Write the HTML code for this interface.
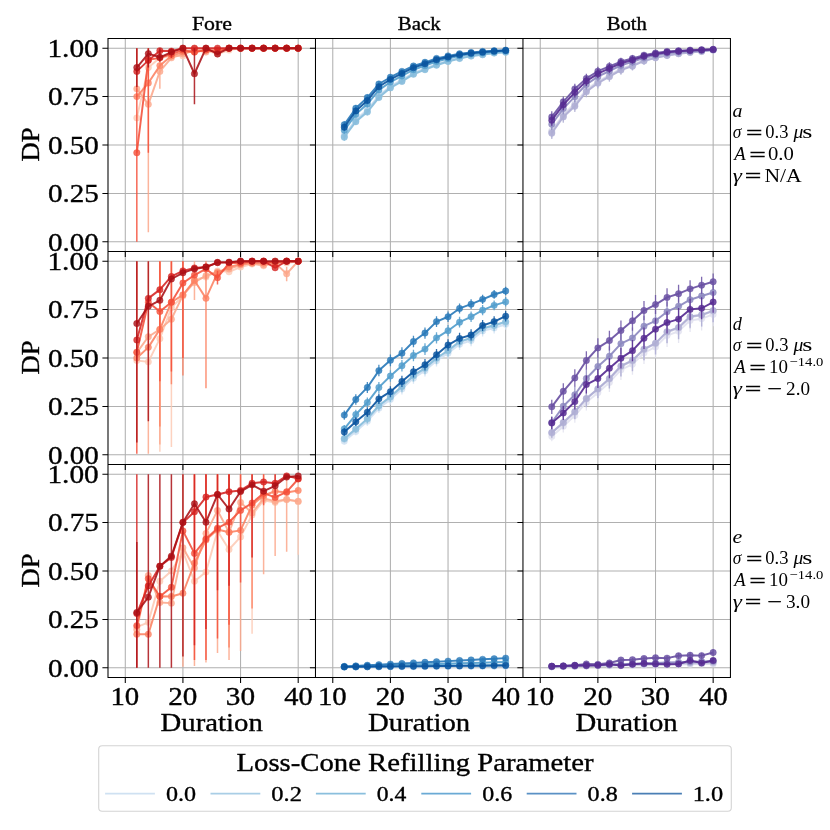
<!DOCTYPE html>
<html><head><meta charset="utf-8"><title>Detection probability vs duration</title>
<style>html,body{margin:0;padding:0;background:#fff}body{width:830px;height:830px;overflow:hidden;font-family:"Liberation Serif",serif}</style></head>
<body>
<svg width="830" height="830" viewBox="0 0 830 830" style="display:block;font-family:'Liberation Serif',serif">
<rect width="830" height="830" fill="#fff"/>
<g>
<path d="M125.29 38.50V251.50M182.92 38.50V251.50M240.56 38.50V251.50M298.19 38.50V251.50M108.00 241.82H315.48M108.00 193.41H315.48M108.00 145.00H315.48M108.00 96.59H315.48M108.00 48.18H315.48" stroke="#b0b0b0" stroke-width="1.05" fill="none"/>
<polyline points="136.82,117.89 148.34,67.55 159.87,57.86 171.40,55.93 182.92,55.93 194.45,48.18 205.98,50.12 217.50,53.99 229.03,50.12 240.56,48.18 252.08,48.18 263.61,48.18 275.14,48.18 286.66,48.18 298.19,48.18" stroke="#fdcab5" stroke-opacity="0.88" stroke-width="1.95" fill="none" stroke-linejoin="round"/>
<g fill="#fdcab5" fill-opacity="0.8" stroke="#fdcab5" stroke-opacity="0.5" stroke-width="0.8"><circle cx="136.82" cy="117.89" r="3.2"/><circle cx="148.34" cy="67.55" r="3.2"/><circle cx="159.87" cy="57.86" r="3.2"/><circle cx="171.40" cy="55.93" r="3.2"/><circle cx="182.92" cy="55.93" r="3.2"/><circle cx="194.45" cy="48.18" r="3.2"/><circle cx="205.98" cy="50.12" r="3.2"/><circle cx="217.50" cy="53.99" r="3.2"/><circle cx="229.03" cy="50.12" r="3.2"/><circle cx="240.56" cy="48.18" r="3.2"/><circle cx="252.08" cy="48.18" r="3.2"/><circle cx="263.61" cy="48.18" r="3.2"/><circle cx="275.14" cy="48.18" r="3.2"/><circle cx="286.66" cy="48.18" r="3.2"/><circle cx="298.19" cy="48.18" r="3.2"/></g>
<path d="M148.34 48.18V232.14M159.87 50.12V88.85" stroke="#fca78b" stroke-opacity="0.85" stroke-width="1.5" fill="none"/>
<polyline points="136.82,88.85 148.34,104.34 159.87,71.42 171.40,57.86 182.92,53.99 194.45,50.12 205.98,52.05 217.50,50.12 229.03,48.18 240.56,48.18 252.08,48.18 263.61,48.18 275.14,48.18 286.66,48.18 298.19,48.18" stroke="#fca78b" stroke-opacity="0.88" stroke-width="1.95" fill="none" stroke-linejoin="round"/>
<g fill="#fca78b" fill-opacity="0.8" stroke="#fca78b" stroke-opacity="0.5" stroke-width="0.8"><circle cx="136.82" cy="88.85" r="3.2"/><circle cx="148.34" cy="104.34" r="3.2"/><circle cx="159.87" cy="71.42" r="3.2"/><circle cx="171.40" cy="57.86" r="3.2"/><circle cx="182.92" cy="53.99" r="3.2"/><circle cx="194.45" cy="50.12" r="3.2"/><circle cx="205.98" cy="52.05" r="3.2"/><circle cx="217.50" cy="50.12" r="3.2"/><circle cx="229.03" cy="48.18" r="3.2"/><circle cx="240.56" cy="48.18" r="3.2"/><circle cx="252.08" cy="48.18" r="3.2"/><circle cx="263.61" cy="48.18" r="3.2"/><circle cx="275.14" cy="48.18" r="3.2"/><circle cx="286.66" cy="48.18" r="3.2"/><circle cx="298.19" cy="48.18" r="3.2"/></g>
<polyline points="136.82,96.59 148.34,83.04 159.87,65.61 171.40,55.93 182.92,52.05 194.45,52.05 205.98,50.12 217.50,50.12 229.03,48.18 240.56,48.18 252.08,48.18 263.61,48.18 275.14,48.18 286.66,48.18 298.19,48.18" stroke="#fc8161" stroke-opacity="0.88" stroke-width="1.95" fill="none" stroke-linejoin="round"/>
<g fill="#fc8161" fill-opacity="0.8" stroke="#fc8161" stroke-opacity="0.5" stroke-width="0.8"><circle cx="136.82" cy="96.59" r="3.2"/><circle cx="148.34" cy="83.04" r="3.2"/><circle cx="159.87" cy="65.61" r="3.2"/><circle cx="171.40" cy="55.93" r="3.2"/><circle cx="182.92" cy="52.05" r="3.2"/><circle cx="194.45" cy="52.05" r="3.2"/><circle cx="205.98" cy="50.12" r="3.2"/><circle cx="217.50" cy="50.12" r="3.2"/><circle cx="229.03" cy="48.18" r="3.2"/><circle cx="240.56" cy="48.18" r="3.2"/><circle cx="252.08" cy="48.18" r="3.2"/><circle cx="263.61" cy="48.18" r="3.2"/><circle cx="275.14" cy="48.18" r="3.2"/><circle cx="286.66" cy="48.18" r="3.2"/><circle cx="298.19" cy="48.18" r="3.2"/></g>
<path d="M136.82 48.18V241.82M148.34 48.18V152.75" stroke="#f44f39" stroke-opacity="0.85" stroke-width="1.5" fill="none"/>
<polyline points="136.82,152.75 148.34,59.80 159.87,57.86 171.40,53.99 182.92,50.12 194.45,52.05 205.98,50.12 217.50,52.05 229.03,48.18 240.56,48.18 252.08,48.18 263.61,48.18 275.14,48.18 286.66,48.18 298.19,48.18" stroke="#f44f39" stroke-opacity="0.88" stroke-width="1.95" fill="none" stroke-linejoin="round"/>
<g fill="#f44f39" fill-opacity="0.8" stroke="#f44f39" stroke-opacity="0.5" stroke-width="0.8"><circle cx="136.82" cy="152.75" r="3.2"/><circle cx="148.34" cy="59.80" r="3.2"/><circle cx="159.87" cy="57.86" r="3.2"/><circle cx="171.40" cy="53.99" r="3.2"/><circle cx="182.92" cy="50.12" r="3.2"/><circle cx="194.45" cy="52.05" r="3.2"/><circle cx="205.98" cy="50.12" r="3.2"/><circle cx="217.50" cy="52.05" r="3.2"/><circle cx="229.03" cy="48.18" r="3.2"/><circle cx="240.56" cy="48.18" r="3.2"/><circle cx="252.08" cy="48.18" r="3.2"/><circle cx="263.61" cy="48.18" r="3.2"/><circle cx="275.14" cy="48.18" r="3.2"/><circle cx="286.66" cy="48.18" r="3.2"/><circle cx="298.19" cy="48.18" r="3.2"/></g>
<path d="M171.40 48.18V57.86" stroke="#d52221" stroke-opacity="0.85" stroke-width="1.5" fill="none"/>
<polyline points="136.82,71.42 148.34,60.38 159.87,50.70 171.40,51.09 182.92,48.18 194.45,48.18 205.98,48.18 217.50,48.18 229.03,48.18 240.56,48.18 252.08,48.18 263.61,48.18 275.14,48.18 286.66,48.18 298.19,48.18" stroke="#d52221" stroke-opacity="0.88" stroke-width="1.95" fill="none" stroke-linejoin="round"/>
<g fill="#d52221" fill-opacity="0.8" stroke="#d52221" stroke-opacity="0.5" stroke-width="0.8"><circle cx="136.82" cy="71.42" r="3.2"/><circle cx="148.34" cy="60.38" r="3.2"/><circle cx="159.87" cy="50.70" r="3.2"/><circle cx="171.40" cy="51.09" r="3.2"/><circle cx="182.92" cy="48.18" r="3.2"/><circle cx="194.45" cy="48.18" r="3.2"/><circle cx="205.98" cy="48.18" r="3.2"/><circle cx="217.50" cy="48.18" r="3.2"/><circle cx="229.03" cy="48.18" r="3.2"/><circle cx="240.56" cy="48.18" r="3.2"/><circle cx="252.08" cy="48.18" r="3.2"/><circle cx="263.61" cy="48.18" r="3.2"/><circle cx="275.14" cy="48.18" r="3.2"/><circle cx="286.66" cy="48.18" r="3.2"/><circle cx="298.19" cy="48.18" r="3.2"/></g>
<path d="M136.82 48.18V86.91M194.45 48.18V104.34M148.34 48.18V67.55M159.87 48.18V61.74" stroke="#aa1016" stroke-opacity="0.85" stroke-width="1.5" fill="none"/>
<polyline points="136.82,67.55 148.34,53.60 159.87,57.28 171.40,52.05 182.92,48.18 194.45,73.74 205.98,48.18 217.50,53.99 229.03,48.18 240.56,48.18 252.08,48.18 263.61,48.18 275.14,48.18 286.66,48.18 298.19,48.18" stroke="#aa1016" stroke-opacity="0.88" stroke-width="1.95" fill="none" stroke-linejoin="round"/>
<g fill="#aa1016" fill-opacity="0.8" stroke="#aa1016" stroke-opacity="0.5" stroke-width="0.8"><circle cx="136.82" cy="67.55" r="3.2"/><circle cx="148.34" cy="53.60" r="3.2"/><circle cx="159.87" cy="57.28" r="3.2"/><circle cx="171.40" cy="52.05" r="3.2"/><circle cx="182.92" cy="48.18" r="3.2"/><circle cx="194.45" cy="73.74" r="3.2"/><circle cx="205.98" cy="48.18" r="3.2"/><circle cx="217.50" cy="53.99" r="3.2"/><circle cx="229.03" cy="48.18" r="3.2"/><circle cx="240.56" cy="48.18" r="3.2"/><circle cx="252.08" cy="48.18" r="3.2"/><circle cx="263.61" cy="48.18" r="3.2"/><circle cx="275.14" cy="48.18" r="3.2"/><circle cx="286.66" cy="48.18" r="3.2"/><circle cx="298.19" cy="48.18" r="3.2"/></g>
</g>
<g>
<path d="M332.77 38.50V251.50M390.40 38.50V251.50M448.04 38.50V251.50M505.67 38.50V251.50M315.48 241.82H522.96M315.48 193.41H522.96M315.48 145.00H522.96M315.48 96.59H522.96M315.48 48.18H522.96" stroke="#b0b0b0" stroke-width="1.05" fill="none"/>
<path d="M344.30 131.87V138.61M355.82 116.33V122.86M367.35 106.60V112.91M378.88 92.48V98.30M390.40 83.48V88.86M401.93 77.37V82.38M413.46 70.73V75.26M424.98 66.42V70.58M436.51 62.27V66.00M448.04 58.98V62.31M459.56 56.24V59.17M471.09 54.24V56.83M482.62 53.06V55.42M494.14 51.63V53.67M505.67 50.98V52.84" stroke="#d0e1f2" stroke-opacity="0.85" stroke-width="1.3" fill="none"/>
<polyline points="344.30,135.24 355.82,119.59 367.35,109.76 378.88,95.39 390.40,86.17 401.93,79.88 413.46,72.99 424.98,68.50 436.51,64.14 448.04,60.64 459.56,57.70 471.09,55.53 482.62,54.24 494.14,52.65 505.67,51.91" stroke="#d0e1f2" stroke-opacity="0.92" stroke-width="1.95" fill="none" stroke-linejoin="round"/>
<g fill="#d0e1f2" fill-opacity="0.84" stroke="#d0e1f2" stroke-opacity="0.5" stroke-width="0.8"><circle cx="344.30" cy="135.24" r="3.2"/><circle cx="355.82" cy="119.59" r="3.2"/><circle cx="367.35" cy="109.76" r="3.2"/><circle cx="378.88" cy="95.39" r="3.2"/><circle cx="390.40" cy="86.17" r="3.2"/><circle cx="401.93" cy="79.88" r="3.2"/><circle cx="413.46" cy="72.99" r="3.2"/><circle cx="424.98" cy="68.50" r="3.2"/><circle cx="436.51" cy="64.14" r="3.2"/><circle cx="448.04" cy="60.64" r="3.2"/><circle cx="459.56" cy="57.70" r="3.2"/><circle cx="471.09" cy="55.53" r="3.2"/><circle cx="482.62" cy="54.24" r="3.2"/><circle cx="494.14" cy="52.65" r="3.2"/><circle cx="505.67" cy="51.91" r="3.2"/></g>
<path d="M344.30 132.87V139.62M355.82 117.40V123.96M367.35 107.75V114.09M378.88 93.54V99.41M390.40 84.31V89.74M401.93 78.15V83.21M413.46 71.37V75.95M424.98 66.98V71.19M436.51 62.79V66.57M448.04 59.40V62.78M459.56 56.58V59.56M471.09 54.51V57.15M482.62 53.30V55.71M494.14 51.80V53.87M505.67 51.13V53.03" stroke="#b3d3e8" stroke-opacity="0.85" stroke-width="1.3" fill="none"/>
<polyline points="344.30,136.25 355.82,120.68 367.35,110.92 378.88,96.47 390.40,87.03 401.93,80.68 413.46,73.66 424.98,69.09 436.51,64.68 448.04,61.09 459.56,58.07 471.09,55.83 482.62,54.50 494.14,52.84 505.67,52.08" stroke="#b3d3e8" stroke-opacity="0.92" stroke-width="1.95" fill="none" stroke-linejoin="round"/>
<g fill="#b3d3e8" fill-opacity="0.84" stroke="#b3d3e8" stroke-opacity="0.5" stroke-width="0.8"><circle cx="344.30" cy="136.25" r="3.2"/><circle cx="355.82" cy="120.68" r="3.2"/><circle cx="367.35" cy="110.92" r="3.2"/><circle cx="378.88" cy="96.47" r="3.2"/><circle cx="390.40" cy="87.03" r="3.2"/><circle cx="401.93" cy="80.68" r="3.2"/><circle cx="413.46" cy="73.66" r="3.2"/><circle cx="424.98" cy="69.09" r="3.2"/><circle cx="436.51" cy="64.68" r="3.2"/><circle cx="448.04" cy="61.09" r="3.2"/><circle cx="459.56" cy="58.07" r="3.2"/><circle cx="471.09" cy="55.83" r="3.2"/><circle cx="482.62" cy="54.50" r="3.2"/><circle cx="494.14" cy="52.84" r="3.2"/><circle cx="505.67" cy="52.08" r="3.2"/></g>
<path d="M344.30 133.88V140.63M355.82 118.47V125.05M367.35 108.90V115.27M378.88 94.61V100.51M390.40 85.14V90.61M401.93 78.93V84.04M413.46 72.01V76.64M424.98 67.55V71.80M436.51 63.30V67.14M448.04 59.82V63.26M459.56 56.93V59.96M471.09 54.78V57.46M482.62 53.54V55.99M494.14 51.96V54.08M505.67 51.28V53.22" stroke="#89bedc" stroke-opacity="0.85" stroke-width="1.3" fill="none"/>
<polyline points="344.30,137.25 355.82,121.76 367.35,112.08 378.88,97.56 390.40,87.88 401.93,81.49 413.46,74.32 424.98,69.68 436.51,65.22 448.04,61.54 459.56,58.44 471.09,56.12 482.62,54.77 494.14,53.02 505.67,52.25" stroke="#89bedc" stroke-opacity="0.92" stroke-width="1.95" fill="none" stroke-linejoin="round"/>
<g fill="#89bedc" fill-opacity="0.84" stroke="#89bedc" stroke-opacity="0.5" stroke-width="0.8"><circle cx="344.30" cy="137.25" r="3.2"/><circle cx="355.82" cy="121.76" r="3.2"/><circle cx="367.35" cy="112.08" r="3.2"/><circle cx="378.88" cy="97.56" r="3.2"/><circle cx="390.40" cy="87.88" r="3.2"/><circle cx="401.93" cy="81.49" r="3.2"/><circle cx="413.46" cy="74.32" r="3.2"/><circle cx="424.98" cy="69.68" r="3.2"/><circle cx="436.51" cy="65.22" r="3.2"/><circle cx="448.04" cy="61.54" r="3.2"/><circle cx="459.56" cy="58.44" r="3.2"/><circle cx="471.09" cy="56.12" r="3.2"/><circle cx="482.62" cy="54.77" r="3.2"/><circle cx="494.14" cy="53.02" r="3.2"/><circle cx="505.67" cy="52.25" r="3.2"/></g>
<path d="M344.30 126.98V133.68M355.82 111.09V117.52M367.35 101.02V107.17M378.88 87.31V92.90M390.40 79.45V84.59M401.93 73.57V78.32M413.46 67.61V71.88M424.98 63.69V67.57M436.51 59.78V63.21M448.04 56.94V59.97M459.56 54.56V57.21M471.09 52.93V55.26M482.62 51.90V54.01M494.14 50.83V52.66M505.67 50.25V51.90" stroke="#539ecd" stroke-opacity="0.85" stroke-width="1.3" fill="none"/>
<polyline points="344.30,130.33 355.82,114.31 367.35,104.09 378.88,90.10 390.40,82.02 401.93,75.95 413.46,69.74 424.98,65.63 436.51,61.49 448.04,58.45 459.56,55.89 471.09,54.10 482.62,52.95 494.14,51.74 505.67,51.08" stroke="#539ecd" stroke-opacity="0.92" stroke-width="1.95" fill="none" stroke-linejoin="round"/>
<g fill="#539ecd" fill-opacity="0.84" stroke="#539ecd" stroke-opacity="0.5" stroke-width="0.8"><circle cx="344.30" cy="130.33" r="3.2"/><circle cx="355.82" cy="114.31" r="3.2"/><circle cx="367.35" cy="104.09" r="3.2"/><circle cx="378.88" cy="90.10" r="3.2"/><circle cx="390.40" cy="82.02" r="3.2"/><circle cx="401.93" cy="75.95" r="3.2"/><circle cx="413.46" cy="69.74" r="3.2"/><circle cx="424.98" cy="65.63" r="3.2"/><circle cx="436.51" cy="61.49" r="3.2"/><circle cx="448.04" cy="58.45" r="3.2"/><circle cx="459.56" cy="55.89" r="3.2"/><circle cx="471.09" cy="54.10" r="3.2"/><circle cx="482.62" cy="52.95" r="3.2"/><circle cx="494.14" cy="51.74" r="3.2"/><circle cx="505.67" cy="51.08" r="3.2"/></g>
<path d="M344.30 121.36V127.98M355.82 105.07V111.34M367.35 94.61V100.51M378.88 81.37V86.64M390.40 74.81V79.65M401.93 69.22V73.62M413.46 64.04V67.96M424.98 60.55V64.08M436.51 56.93V59.96M448.04 54.60V57.26M459.56 52.66V54.93M471.09 51.45V53.44M482.62 50.60V52.35M494.14 49.93V51.47M505.67 49.44V50.79" stroke="#2b7bba" stroke-opacity="0.85" stroke-width="1.3" fill="none"/>
<polyline points="344.30,124.67 355.82,108.21 367.35,97.56 378.88,84.00 390.40,77.23 401.93,71.42 413.46,66.00 424.98,62.32 436.51,58.44 448.04,55.93 459.56,53.80 471.09,52.44 482.62,51.47 494.14,50.70 505.67,50.12" stroke="#2b7bba" stroke-opacity="0.92" stroke-width="1.95" fill="none" stroke-linejoin="round"/>
<g fill="#2b7bba" fill-opacity="0.84" stroke="#2b7bba" stroke-opacity="0.5" stroke-width="0.8"><circle cx="344.30" cy="124.67" r="3.2"/><circle cx="355.82" cy="108.21" r="3.2"/><circle cx="367.35" cy="97.56" r="3.2"/><circle cx="378.88" cy="84.00" r="3.2"/><circle cx="390.40" cy="77.23" r="3.2"/><circle cx="401.93" cy="71.42" r="3.2"/><circle cx="413.46" cy="66.00" r="3.2"/><circle cx="424.98" cy="62.32" r="3.2"/><circle cx="436.51" cy="58.44" r="3.2"/><circle cx="448.04" cy="55.93" r="3.2"/><circle cx="459.56" cy="53.80" r="3.2"/><circle cx="471.09" cy="52.44" r="3.2"/><circle cx="482.62" cy="51.47" r="3.2"/><circle cx="494.14" cy="50.70" r="3.2"/><circle cx="505.67" cy="50.12" r="3.2"/></g>
<path d="M344.30 123.85V130.52M355.82 107.75V114.09M367.35 97.45V103.47M378.88 84.01V89.42M390.40 76.87V81.85M401.93 71.15V75.71M413.46 65.62V69.70M424.98 61.94V65.63M436.51 58.19V61.41M448.04 55.63V58.47M459.56 53.50V55.95M471.09 52.10V54.25M482.62 51.17V53.09M494.14 50.33V52.00M505.67 49.80V51.29" stroke="#0b559f" stroke-opacity="0.85" stroke-width="1.3" fill="none"/>
<polyline points="344.30,127.19 355.82,110.92 367.35,100.46 378.88,86.72 390.40,79.36 401.93,73.43 413.46,67.66 424.98,63.79 436.51,59.80 448.04,57.05 459.56,54.73 471.09,53.18 482.62,52.13 494.14,51.16 505.67,50.54" stroke="#0b559f" stroke-opacity="0.92" stroke-width="1.95" fill="none" stroke-linejoin="round"/>
<g fill="#0b559f" fill-opacity="0.84" stroke="#0b559f" stroke-opacity="0.5" stroke-width="0.8"><circle cx="344.30" cy="127.19" r="3.2"/><circle cx="355.82" cy="110.92" r="3.2"/><circle cx="367.35" cy="100.46" r="3.2"/><circle cx="378.88" cy="86.72" r="3.2"/><circle cx="390.40" cy="79.36" r="3.2"/><circle cx="401.93" cy="73.43" r="3.2"/><circle cx="413.46" cy="67.66" r="3.2"/><circle cx="424.98" cy="63.79" r="3.2"/><circle cx="436.51" cy="59.80" r="3.2"/><circle cx="448.04" cy="57.05" r="3.2"/><circle cx="459.56" cy="54.73" r="3.2"/><circle cx="471.09" cy="53.18" r="3.2"/><circle cx="482.62" cy="52.13" r="3.2"/><circle cx="494.14" cy="51.16" r="3.2"/><circle cx="505.67" cy="50.54" r="3.2"/></g>
</g>
<g>
<path d="M540.25 38.50V251.50M597.88 38.50V251.50M655.52 38.50V251.50M713.15 38.50V251.50M522.96 241.82H730.44M522.96 193.41H730.44M522.96 145.00H730.44M522.96 96.59H730.44M522.96 48.18H730.44" stroke="#b0b0b0" stroke-width="1.05" fill="none"/>
<path d="M551.78 124.84V136.33M563.30 108.76V120.26M574.83 97.79V109.18M586.36 84.24V94.99M597.88 76.18V86.43M609.41 70.13V79.88M620.94 64.20V73.19M632.46 60.70V69.20M643.99 56.29V63.77M655.52 53.72V60.46M667.04 51.85V57.92M678.57 50.56V56.04M690.10 49.60V54.54M701.62 48.96V53.43M713.15 48.20V51.78" stroke="#e2e2ef" stroke-opacity="0.85" stroke-width="1.3" fill="none"/>
<polyline points="551.78,130.59 563.30,114.51 574.83,103.48 586.36,89.61 597.88,81.31 609.41,75.00 620.94,68.70 632.46,64.95 643.99,60.03 655.52,57.09 667.04,54.89 678.57,53.30 690.10,52.07 701.62,51.19 713.15,49.99" stroke="#e2e2ef" stroke-opacity="0.92" stroke-width="1.95" fill="none" stroke-linejoin="round"/>
<g fill="#e2e2ef" fill-opacity="0.84" stroke="#e2e2ef" stroke-opacity="0.5" stroke-width="0.8"><circle cx="551.78" cy="130.59" r="3.2"/><circle cx="563.30" cy="114.51" r="3.2"/><circle cx="574.83" cy="103.48" r="3.2"/><circle cx="586.36" cy="89.61" r="3.2"/><circle cx="597.88" cy="81.31" r="3.2"/><circle cx="609.41" cy="75.00" r="3.2"/><circle cx="620.94" cy="68.70" r="3.2"/><circle cx="632.46" cy="64.95" r="3.2"/><circle cx="643.99" cy="60.03" r="3.2"/><circle cx="655.52" cy="57.09" r="3.2"/><circle cx="667.04" cy="54.89" r="3.2"/><circle cx="678.57" cy="53.30" r="3.2"/><circle cx="690.10" cy="52.07" r="3.2"/><circle cx="701.62" cy="51.19" r="3.2"/><circle cx="713.15" cy="49.99" r="3.2"/></g>
<path d="M551.78 126.13V137.64M563.30 109.94V121.49M574.83 99.14V110.62M586.36 85.25V96.11M597.88 77.09V87.45M609.41 70.89V80.76M620.94 64.82V73.94M632.46 61.25V69.89M643.99 56.69V64.30M655.52 54.03V60.92M667.04 52.11V58.32M678.57 50.74V56.36M690.10 49.73V54.78M701.62 49.04V53.62M713.15 48.24V51.88" stroke="#cccce4" stroke-opacity="0.85" stroke-width="1.3" fill="none"/>
<polyline points="551.78,131.89 563.30,115.71 574.83,104.88 586.36,90.68 597.88,82.27 609.41,75.83 620.94,69.38 632.46,65.57 643.99,60.50 655.52,57.48 667.04,55.21 678.57,53.55 690.10,52.26 701.62,51.33 713.15,50.06" stroke="#cccce4" stroke-opacity="0.92" stroke-width="1.95" fill="none" stroke-linejoin="round"/>
<g fill="#cccce4" fill-opacity="0.84" stroke="#cccce4" stroke-opacity="0.5" stroke-width="0.8"><circle cx="551.78" cy="131.89" r="3.2"/><circle cx="563.30" cy="115.71" r="3.2"/><circle cx="574.83" cy="104.88" r="3.2"/><circle cx="586.36" cy="90.68" r="3.2"/><circle cx="597.88" cy="82.27" r="3.2"/><circle cx="609.41" cy="75.83" r="3.2"/><circle cx="620.94" cy="69.38" r="3.2"/><circle cx="632.46" cy="65.57" r="3.2"/><circle cx="643.99" cy="60.50" r="3.2"/><circle cx="655.52" cy="57.48" r="3.2"/><circle cx="667.04" cy="55.21" r="3.2"/><circle cx="678.57" cy="53.55" r="3.2"/><circle cx="690.10" cy="52.26" r="3.2"/><circle cx="701.62" cy="51.33" r="3.2"/><circle cx="713.15" cy="50.06" r="3.2"/></g>
<path d="M551.78 127.42V138.95M563.30 111.13V122.72M574.83 100.49V112.05M586.36 86.27V97.23M597.88 77.99V88.47M609.41 71.65V81.64M620.94 65.44V74.69M632.46 61.80V70.58M643.99 57.09V64.84M655.52 54.35V61.37M667.04 52.37V58.71M678.57 50.93V56.67M690.10 49.86V55.02M701.62 49.13V53.81M713.15 48.27V51.97" stroke="#afaed4" stroke-opacity="0.85" stroke-width="1.3" fill="none"/>
<polyline points="551.78,133.19 563.30,116.92 574.83,106.27 586.36,91.75 597.88,83.23 609.41,76.65 620.94,70.06 632.46,66.19 643.99,60.96 655.52,57.86 667.04,55.54 678.57,53.80 690.10,52.44 701.62,51.47 713.15,50.12" stroke="#afaed4" stroke-opacity="0.92" stroke-width="1.95" fill="none" stroke-linejoin="round"/>
<g fill="#afaed4" fill-opacity="0.84" stroke="#afaed4" stroke-opacity="0.5" stroke-width="0.8"><circle cx="551.78" cy="133.19" r="3.2"/><circle cx="563.30" cy="116.92" r="3.2"/><circle cx="574.83" cy="106.27" r="3.2"/><circle cx="586.36" cy="91.75" r="3.2"/><circle cx="597.88" cy="83.23" r="3.2"/><circle cx="609.41" cy="76.65" r="3.2"/><circle cx="620.94" cy="70.06" r="3.2"/><circle cx="632.46" cy="66.19" r="3.2"/><circle cx="643.99" cy="60.96" r="3.2"/><circle cx="655.52" cy="57.86" r="3.2"/><circle cx="667.04" cy="55.54" r="3.2"/><circle cx="678.57" cy="53.80" r="3.2"/><circle cx="690.10" cy="52.44" r="3.2"/><circle cx="701.62" cy="51.47" r="3.2"/><circle cx="713.15" cy="50.12" r="3.2"/></g>
<path d="M551.78 118.57V129.92M563.30 103.00V114.23M574.83 91.22V102.15M586.36 79.29V89.51M597.88 71.81V81.44M609.41 66.45V75.55M620.94 61.22V69.53M632.46 58.05V65.81M643.99 54.38V61.15M655.52 52.19V58.21M667.04 50.64V55.97M678.57 49.69V54.50M690.10 49.00V53.33M701.62 48.54V52.49M713.15 48.18V51.33" stroke="#8d89c0" stroke-opacity="0.85" stroke-width="1.3" fill="none"/>
<polyline points="551.78,124.24 563.30,108.62 574.83,96.69 586.36,84.40 597.88,76.63 609.41,71.00 620.94,65.38 632.46,61.93 643.99,57.77 655.52,55.20 667.04,53.30 678.57,52.09 690.10,51.16 701.62,50.52 713.15,49.69" stroke="#8d89c0" stroke-opacity="0.92" stroke-width="1.95" fill="none" stroke-linejoin="round"/>
<g fill="#8d89c0" fill-opacity="0.84" stroke="#8d89c0" stroke-opacity="0.5" stroke-width="0.8"><circle cx="551.78" cy="124.24" r="3.2"/><circle cx="563.30" cy="108.62" r="3.2"/><circle cx="574.83" cy="96.69" r="3.2"/><circle cx="586.36" cy="84.40" r="3.2"/><circle cx="597.88" cy="76.63" r="3.2"/><circle cx="609.41" cy="71.00" r="3.2"/><circle cx="620.94" cy="65.38" r="3.2"/><circle cx="632.46" cy="61.93" r="3.2"/><circle cx="643.99" cy="57.77" r="3.2"/><circle cx="655.52" cy="55.20" r="3.2"/><circle cx="667.04" cy="53.30" r="3.2"/><circle cx="678.57" cy="52.09" r="3.2"/><circle cx="690.10" cy="51.16" r="3.2"/><circle cx="701.62" cy="50.52" r="3.2"/><circle cx="713.15" cy="49.69" r="3.2"/></g>
<path d="M551.78 111.36V122.48M563.30 96.40V107.24M574.83 83.71V93.98M586.36 73.63V83.15M597.88 66.82V75.63M609.41 62.27V70.50M620.94 57.84V65.24M632.46 55.06V61.83M643.99 52.25V58.06M655.52 50.51V55.54M667.04 49.33V53.62M678.57 48.76V52.64M690.10 48.37V51.87M701.62 48.18V51.34M713.15 48.18V50.78" stroke="#6a51a3" stroke-opacity="0.85" stroke-width="1.3" fill="none"/>
<polyline points="551.78,116.92 563.30,101.82 574.83,88.85 586.36,78.39 597.88,71.22 609.41,66.38 620.94,61.54 632.46,58.44 643.99,55.15 655.52,53.02 667.04,51.47 678.57,50.70 690.10,50.12 701.62,49.73 713.15,49.34" stroke="#6a51a3" stroke-opacity="0.92" stroke-width="1.95" fill="none" stroke-linejoin="round"/>
<g fill="#6a51a3" fill-opacity="0.84" stroke="#6a51a3" stroke-opacity="0.5" stroke-width="0.8"><circle cx="551.78" cy="116.92" r="3.2"/><circle cx="563.30" cy="101.82" r="3.2"/><circle cx="574.83" cy="88.85" r="3.2"/><circle cx="586.36" cy="78.39" r="3.2"/><circle cx="597.88" cy="71.22" r="3.2"/><circle cx="609.41" cy="66.38" r="3.2"/><circle cx="620.94" cy="61.54" r="3.2"/><circle cx="632.46" cy="58.44" r="3.2"/><circle cx="643.99" cy="55.15" r="3.2"/><circle cx="655.52" cy="53.02" r="3.2"/><circle cx="667.04" cy="51.47" r="3.2"/><circle cx="678.57" cy="50.70" r="3.2"/><circle cx="690.10" cy="50.12" r="3.2"/><circle cx="701.62" cy="49.73" r="3.2"/><circle cx="713.15" cy="49.34" r="3.2"/></g>
<path d="M551.78 114.56V125.79M563.30 99.33V110.35M574.83 87.04V97.62M586.36 76.14V85.98M597.88 69.03V78.22M609.41 64.12V72.75M620.94 59.33V67.16M632.46 56.38V63.61M643.99 53.19V59.44M655.52 51.24V56.74M667.04 49.90V54.68M678.57 49.16V53.48M690.10 48.64V52.53M701.62 48.30V51.86M713.15 48.18V51.03" stroke="#572c92" stroke-opacity="0.85" stroke-width="1.3" fill="none"/>
<polyline points="551.78,120.18 563.30,104.84 574.83,92.33 586.36,81.06 597.88,73.63 609.41,68.44 620.94,63.25 632.46,59.99 643.99,56.31 655.52,53.99 667.04,52.29 678.57,51.32 690.10,50.58 701.62,50.08 713.15,49.50" stroke="#572c92" stroke-opacity="0.92" stroke-width="1.95" fill="none" stroke-linejoin="round"/>
<g fill="#572c92" fill-opacity="0.84" stroke="#572c92" stroke-opacity="0.5" stroke-width="0.8"><circle cx="551.78" cy="120.18" r="3.2"/><circle cx="563.30" cy="104.84" r="3.2"/><circle cx="574.83" cy="92.33" r="3.2"/><circle cx="586.36" cy="81.06" r="3.2"/><circle cx="597.88" cy="73.63" r="3.2"/><circle cx="609.41" cy="68.44" r="3.2"/><circle cx="620.94" cy="63.25" r="3.2"/><circle cx="632.46" cy="59.99" r="3.2"/><circle cx="643.99" cy="56.31" r="3.2"/><circle cx="655.52" cy="53.99" r="3.2"/><circle cx="667.04" cy="52.29" r="3.2"/><circle cx="678.57" cy="51.32" r="3.2"/><circle cx="690.10" cy="50.58" r="3.2"/><circle cx="701.62" cy="50.08" r="3.2"/><circle cx="713.15" cy="49.50" r="3.2"/></g>
</g>
<g>
<path d="M125.29 251.50V464.50M182.92 251.50V464.50M240.56 251.50V464.50M298.19 251.50V464.50M108.00 454.82H315.48M108.00 406.41H315.48M108.00 358.00H315.48M108.00 309.59H315.48M108.00 261.18H315.48" stroke="#b0b0b0" stroke-width="1.05" fill="none"/>
<path d="M159.87 261.18V451.72M171.40 261.18V447.07" stroke="#fdcab5" stroke-opacity="0.85" stroke-width="1.5" fill="none"/>
<polyline points="136.82,360.52 148.34,361.87 159.87,338.64 171.40,307.65 182.92,296.04 194.45,279.77 205.98,277.06 217.50,270.86 229.03,271.83 240.56,266.99 252.08,264.09 263.61,265.83 275.14,263.12 286.66,263.12 298.19,261.18" stroke="#fdcab5" stroke-opacity="0.88" stroke-width="1.95" fill="none" stroke-linejoin="round"/>
<g fill="#fdcab5" fill-opacity="0.8" stroke="#fdcab5" stroke-opacity="0.5" stroke-width="0.8"><circle cx="136.82" cy="360.52" r="3.2"/><circle cx="148.34" cy="361.87" r="3.2"/><circle cx="159.87" cy="338.64" r="3.2"/><circle cx="171.40" cy="307.65" r="3.2"/><circle cx="182.92" cy="296.04" r="3.2"/><circle cx="194.45" cy="279.77" r="3.2"/><circle cx="205.98" cy="277.06" r="3.2"/><circle cx="217.50" cy="270.86" r="3.2"/><circle cx="229.03" cy="271.83" r="3.2"/><circle cx="240.56" cy="266.99" r="3.2"/><circle cx="252.08" cy="264.09" r="3.2"/><circle cx="263.61" cy="265.83" r="3.2"/><circle cx="275.14" cy="263.12" r="3.2"/><circle cx="286.66" cy="263.12" r="3.2"/><circle cx="298.19" cy="261.18" r="3.2"/></g>
<path d="M148.34 261.18V453.85M159.87 261.18V444.56M194.45 261.18V299.91M286.66 266.99V281.13" stroke="#fca78b" stroke-opacity="0.85" stroke-width="1.5" fill="none"/>
<polyline points="136.82,352.58 148.34,336.70 159.87,329.34 171.40,319.27 182.92,295.07 194.45,282.48 205.98,275.70 217.50,271.83 229.03,268.93 240.56,265.05 252.08,263.12 263.61,265.05 275.14,263.12 286.66,273.77 298.19,261.18" stroke="#fca78b" stroke-opacity="0.88" stroke-width="1.95" fill="none" stroke-linejoin="round"/>
<g fill="#fca78b" fill-opacity="0.8" stroke="#fca78b" stroke-opacity="0.5" stroke-width="0.8"><circle cx="136.82" cy="352.58" r="3.2"/><circle cx="148.34" cy="336.70" r="3.2"/><circle cx="159.87" cy="329.34" r="3.2"/><circle cx="171.40" cy="319.27" r="3.2"/><circle cx="182.92" cy="295.07" r="3.2"/><circle cx="194.45" cy="282.48" r="3.2"/><circle cx="205.98" cy="275.70" r="3.2"/><circle cx="217.50" cy="271.83" r="3.2"/><circle cx="229.03" cy="268.93" r="3.2"/><circle cx="240.56" cy="265.05" r="3.2"/><circle cx="252.08" cy="263.12" r="3.2"/><circle cx="263.61" cy="265.05" r="3.2"/><circle cx="275.14" cy="263.12" r="3.2"/><circle cx="286.66" cy="273.77" r="3.2"/><circle cx="298.19" cy="261.18" r="3.2"/></g>
<path d="M159.87 261.18V426.55M171.40 261.18V384.14M182.92 261.18V375.43M205.98 261.18V388.21" stroke="#fc8161" stroke-opacity="0.85" stroke-width="1.5" fill="none"/>
<polyline points="136.82,358.00 148.34,347.35 159.87,329.34 171.40,302.23 182.92,294.87 194.45,280.55 205.98,298.36 217.50,272.80 229.03,266.99 240.56,264.09 252.08,263.12 263.61,263.12 275.14,261.18 286.66,261.18 298.19,261.18" stroke="#fc8161" stroke-opacity="0.88" stroke-width="1.95" fill="none" stroke-linejoin="round"/>
<g fill="#fc8161" fill-opacity="0.8" stroke="#fc8161" stroke-opacity="0.5" stroke-width="0.8"><circle cx="136.82" cy="358.00" r="3.2"/><circle cx="148.34" cy="347.35" r="3.2"/><circle cx="159.87" cy="329.34" r="3.2"/><circle cx="171.40" cy="302.23" r="3.2"/><circle cx="182.92" cy="294.87" r="3.2"/><circle cx="194.45" cy="280.55" r="3.2"/><circle cx="205.98" cy="298.36" r="3.2"/><circle cx="217.50" cy="272.80" r="3.2"/><circle cx="229.03" cy="266.99" r="3.2"/><circle cx="240.56" cy="264.09" r="3.2"/><circle cx="252.08" cy="263.12" r="3.2"/><circle cx="263.61" cy="263.12" r="3.2"/><circle cx="275.14" cy="261.18" r="3.2"/><circle cx="286.66" cy="261.18" r="3.2"/><circle cx="298.19" cy="261.18" r="3.2"/></g>
<path d="M136.82 261.18V453.85M159.87 261.18V381.24M171.40 261.18V371.55M182.92 261.18V358.00M217.50 270.86V284.42" stroke="#f44f39" stroke-opacity="0.85" stroke-width="1.5" fill="none"/>
<polyline points="136.82,352.19 148.34,302.23 159.87,311.53 171.40,302.23 182.92,283.06 194.45,275.12 205.98,268.93 217.50,277.64 229.03,263.12 240.56,263.12 252.08,261.18 263.61,261.18 275.14,263.12 286.66,261.18 298.19,261.18" stroke="#f44f39" stroke-opacity="0.88" stroke-width="1.95" fill="none" stroke-linejoin="round"/>
<g fill="#f44f39" fill-opacity="0.8" stroke="#f44f39" stroke-opacity="0.5" stroke-width="0.8"><circle cx="136.82" cy="352.19" r="3.2"/><circle cx="148.34" cy="302.23" r="3.2"/><circle cx="159.87" cy="311.53" r="3.2"/><circle cx="171.40" cy="302.23" r="3.2"/><circle cx="182.92" cy="283.06" r="3.2"/><circle cx="194.45" cy="275.12" r="3.2"/><circle cx="205.98" cy="268.93" r="3.2"/><circle cx="217.50" cy="277.64" r="3.2"/><circle cx="229.03" cy="263.12" r="3.2"/><circle cx="240.56" cy="263.12" r="3.2"/><circle cx="252.08" cy="261.18" r="3.2"/><circle cx="263.61" cy="261.18" r="3.2"/><circle cx="275.14" cy="263.12" r="3.2"/><circle cx="286.66" cy="261.18" r="3.2"/><circle cx="298.19" cy="261.18" r="3.2"/></g>
<polyline points="136.82,339.99 148.34,298.36 159.87,289.65 171.40,276.48 182.92,270.86 194.45,267.96 205.98,266.99 217.50,262.54 229.03,262.54 240.56,261.18 252.08,261.18 263.61,261.18 275.14,267.77 286.66,261.18 298.19,261.18" stroke="#d52221" stroke-opacity="0.88" stroke-width="1.95" fill="none" stroke-linejoin="round"/>
<g fill="#d52221" fill-opacity="0.8" stroke="#d52221" stroke-opacity="0.5" stroke-width="0.8"><circle cx="136.82" cy="339.99" r="3.2"/><circle cx="148.34" cy="298.36" r="3.2"/><circle cx="159.87" cy="289.65" r="3.2"/><circle cx="171.40" cy="276.48" r="3.2"/><circle cx="182.92" cy="270.86" r="3.2"/><circle cx="194.45" cy="267.96" r="3.2"/><circle cx="205.98" cy="266.99" r="3.2"/><circle cx="217.50" cy="262.54" r="3.2"/><circle cx="229.03" cy="262.54" r="3.2"/><circle cx="240.56" cy="261.18" r="3.2"/><circle cx="252.08" cy="261.18" r="3.2"/><circle cx="263.61" cy="261.18" r="3.2"/><circle cx="275.14" cy="267.77" r="3.2"/><circle cx="286.66" cy="261.18" r="3.2"/><circle cx="298.19" cy="261.18" r="3.2"/></g>
<path d="M136.82 261.18V442.43M148.34 261.18V421.32" stroke="#aa1016" stroke-opacity="0.85" stroke-width="1.5" fill="none"/>
<polyline points="136.82,323.53 148.34,306.30 159.87,300.30 171.40,279.00 182.92,272.80 194.45,268.93 205.98,266.99 217.50,262.54 229.03,262.15 240.56,261.18 252.08,261.18 263.61,261.18 275.14,261.18 286.66,261.18 298.19,261.18" stroke="#aa1016" stroke-opacity="0.88" stroke-width="1.95" fill="none" stroke-linejoin="round"/>
<g fill="#aa1016" fill-opacity="0.8" stroke="#aa1016" stroke-opacity="0.5" stroke-width="0.8"><circle cx="136.82" cy="323.53" r="3.2"/><circle cx="148.34" cy="306.30" r="3.2"/><circle cx="159.87" cy="300.30" r="3.2"/><circle cx="171.40" cy="279.00" r="3.2"/><circle cx="182.92" cy="272.80" r="3.2"/><circle cx="194.45" cy="268.93" r="3.2"/><circle cx="205.98" cy="266.99" r="3.2"/><circle cx="217.50" cy="262.54" r="3.2"/><circle cx="229.03" cy="262.15" r="3.2"/><circle cx="240.56" cy="261.18" r="3.2"/><circle cx="252.08" cy="261.18" r="3.2"/><circle cx="263.61" cy="261.18" r="3.2"/><circle cx="275.14" cy="261.18" r="3.2"/><circle cx="286.66" cy="261.18" r="3.2"/><circle cx="298.19" cy="261.18" r="3.2"/></g>
</g>
<g>
<path d="M332.77 251.50V464.50M390.40 251.50V464.50M448.04 251.50V464.50M505.67 251.50V464.50M315.48 454.82H522.96M315.48 406.41H522.96M315.48 358.00H522.96M315.48 309.59H522.96M315.48 261.18H522.96" stroke="#b0b0b0" stroke-width="1.05" fill="none"/>
<path d="M344.30 438.30V444.23M355.82 427.81V435.36M367.35 416.92V425.71M378.88 403.18V413.12M390.40 394.19V404.69M401.93 383.48V394.49M413.46 372.46V383.82M424.98 365.02V376.54M436.51 354.90V366.52M448.04 347.36V358.96M459.56 338.50V350.00M471.09 334.86V346.29M482.62 325.31V336.47M494.14 322.46V333.51M505.67 318.86V329.75" stroke="#d0e1f2" stroke-opacity="0.85" stroke-width="1.3" fill="none"/>
<polyline points="344.30,441.26 355.82,431.58 367.35,421.32 378.88,408.15 390.40,399.44 401.93,388.98 413.46,378.14 424.98,370.78 436.51,360.71 448.04,353.16 459.56,344.25 471.09,340.57 482.62,330.89 494.14,327.99 505.67,324.31" stroke="#d0e1f2" stroke-opacity="0.92" stroke-width="1.95" fill="none" stroke-linejoin="round"/>
<g fill="#d0e1f2" fill-opacity="0.84" stroke="#d0e1f2" stroke-opacity="0.5" stroke-width="0.8"><circle cx="344.30" cy="441.26" r="3.2"/><circle cx="355.82" cy="431.58" r="3.2"/><circle cx="367.35" cy="421.32" r="3.2"/><circle cx="378.88" cy="408.15" r="3.2"/><circle cx="390.40" cy="399.44" r="3.2"/><circle cx="401.93" cy="388.98" r="3.2"/><circle cx="413.46" cy="378.14" r="3.2"/><circle cx="424.98" cy="370.78" r="3.2"/><circle cx="436.51" cy="360.71" r="3.2"/><circle cx="448.04" cy="353.16" r="3.2"/><circle cx="459.56" cy="344.25" r="3.2"/><circle cx="471.09" cy="340.57" r="3.2"/><circle cx="482.62" cy="330.89" r="3.2"/><circle cx="494.14" cy="327.99" r="3.2"/><circle cx="505.67" cy="324.31" r="3.2"/></g>
<path d="M344.30 435.96V442.30M355.82 425.53V433.37M367.35 414.69V423.69M378.88 400.98V411.07M390.40 392.00V402.62M401.93 381.31V392.40M413.46 370.30V381.72M424.98 362.88V374.42M436.51 352.77V364.39M448.04 345.24V356.82M459.56 336.39V347.85M471.09 332.75V344.13M482.62 323.22V334.30M494.14 320.38V331.34M505.67 316.78V327.57" stroke="#b3d3e8" stroke-opacity="0.85" stroke-width="1.3" fill="none"/>
<polyline points="344.30,439.13 355.82,429.45 367.35,419.19 378.88,406.02 390.40,397.31 401.93,386.85 413.46,376.01 424.98,368.65 436.51,358.58 448.04,351.03 459.56,342.12 471.09,338.44 482.62,328.76 494.14,325.86 505.67,322.18" stroke="#b3d3e8" stroke-opacity="0.92" stroke-width="1.95" fill="none" stroke-linejoin="round"/>
<g fill="#b3d3e8" fill-opacity="0.84" stroke="#b3d3e8" stroke-opacity="0.5" stroke-width="0.8"><circle cx="344.30" cy="439.13" r="3.2"/><circle cx="355.82" cy="429.45" r="3.2"/><circle cx="367.35" cy="419.19" r="3.2"/><circle cx="378.88" cy="406.02" r="3.2"/><circle cx="390.40" cy="397.31" r="3.2"/><circle cx="401.93" cy="386.85" r="3.2"/><circle cx="413.46" cy="376.01" r="3.2"/><circle cx="424.98" cy="368.65" r="3.2"/><circle cx="436.51" cy="358.58" r="3.2"/><circle cx="448.04" cy="351.03" r="3.2"/><circle cx="459.56" cy="342.12" r="3.2"/><circle cx="471.09" cy="338.44" r="3.2"/><circle cx="482.62" cy="328.76" r="3.2"/><circle cx="494.14" cy="325.86" r="3.2"/><circle cx="505.67" cy="322.18" r="3.2"/></g>
<path d="M344.30 435.33V441.78M355.82 424.91V432.83M367.35 414.08V423.14M378.88 400.38V410.50M390.40 391.40V402.05M401.93 380.71V391.83M413.46 369.71V381.14M424.98 362.29V373.85M436.51 352.19V363.81M448.04 344.66V356.24M459.56 335.82V347.27M471.09 332.18V343.54M482.62 322.65V333.71M494.14 319.81V330.74M505.67 316.21V326.98" stroke="#89bedc" stroke-opacity="0.85" stroke-width="1.3" fill="none"/>
<polyline points="344.30,438.55 355.82,428.87 367.35,418.61 378.88,405.44 390.40,396.73 401.93,386.27 413.46,375.43 424.98,368.07 436.51,358.00 448.04,350.45 459.56,341.54 471.09,337.86 482.62,328.18 494.14,325.28 505.67,321.60" stroke="#89bedc" stroke-opacity="0.92" stroke-width="1.95" fill="none" stroke-linejoin="round"/>
<g fill="#89bedc" fill-opacity="0.84" stroke="#89bedc" stroke-opacity="0.5" stroke-width="0.8"><circle cx="344.30" cy="438.55" r="3.2"/><circle cx="355.82" cy="428.87" r="3.2"/><circle cx="367.35" cy="418.61" r="3.2"/><circle cx="378.88" cy="405.44" r="3.2"/><circle cx="390.40" cy="396.73" r="3.2"/><circle cx="401.93" cy="386.27" r="3.2"/><circle cx="413.46" cy="375.43" r="3.2"/><circle cx="424.98" cy="368.07" r="3.2"/><circle cx="436.51" cy="358.00" r="3.2"/><circle cx="448.04" cy="350.45" r="3.2"/><circle cx="459.56" cy="341.54" r="3.2"/><circle cx="471.09" cy="337.86" r="3.2"/><circle cx="482.62" cy="328.18" r="3.2"/><circle cx="494.14" cy="325.28" r="3.2"/><circle cx="505.67" cy="321.60" r="3.2"/></g>
<path d="M344.30 424.91V432.83M355.82 409.83V419.26M367.35 397.38V407.69M378.88 381.90V392.97M390.40 370.30V381.72M401.93 359.95V371.54M413.46 349.68V361.29M424.98 343.31V354.88M436.51 332.18V343.54M448.04 325.12V336.27M459.56 316.78V327.57M471.09 311.50V322.01M482.62 305.12V315.22M494.14 300.46V310.21M505.67 297.11V306.58" stroke="#539ecd" stroke-opacity="0.85" stroke-width="1.3" fill="none"/>
<polyline points="344.30,428.87 355.82,414.54 367.35,402.54 378.88,387.43 390.40,376.01 401.93,365.75 413.46,355.48 424.98,349.09 436.51,337.86 448.04,330.70 459.56,322.18 471.09,316.76 482.62,310.17 494.14,305.33 505.67,301.85" stroke="#539ecd" stroke-opacity="0.92" stroke-width="1.95" fill="none" stroke-linejoin="round"/>
<g fill="#539ecd" fill-opacity="0.84" stroke="#539ecd" stroke-opacity="0.5" stroke-width="0.8"><circle cx="344.30" cy="428.87" r="3.2"/><circle cx="355.82" cy="414.54" r="3.2"/><circle cx="367.35" cy="402.54" r="3.2"/><circle cx="378.88" cy="387.43" r="3.2"/><circle cx="390.40" cy="376.01" r="3.2"/><circle cx="401.93" cy="365.75" r="3.2"/><circle cx="413.46" cy="355.48" r="3.2"/><circle cx="424.98" cy="349.09" r="3.2"/><circle cx="436.51" cy="337.86" r="3.2"/><circle cx="448.04" cy="330.70" r="3.2"/><circle cx="459.56" cy="322.18" r="3.2"/><circle cx="471.09" cy="316.76" r="3.2"/><circle cx="482.62" cy="310.17" r="3.2"/><circle cx="494.14" cy="305.33" r="3.2"/><circle cx="505.67" cy="301.85" r="3.2"/></g>
<path d="M344.30 410.43V419.81M355.82 394.19V404.69M367.35 381.90V392.97M378.88 364.83V376.35M390.40 354.52V366.13M401.93 347.36V358.96M413.46 335.82V347.27M424.98 327.41V338.63M436.51 316.21V326.98M448.04 311.50V322.01M459.56 303.44V313.42M471.09 299.34V309.00M482.62 294.71V303.95M494.14 290.10V298.87M505.67 286.81V295.20" stroke="#2b7bba" stroke-opacity="0.85" stroke-width="1.3" fill="none"/>
<polyline points="344.30,415.12 355.82,399.44 367.35,387.43 378.88,370.59 390.40,360.32 401.93,353.16 413.46,341.54 424.98,333.02 436.51,321.60 448.04,316.76 459.56,308.43 471.09,304.17 482.62,299.33 494.14,294.49 505.67,291.00" stroke="#2b7bba" stroke-opacity="0.92" stroke-width="1.95" fill="none" stroke-linejoin="round"/>
<g fill="#2b7bba" fill-opacity="0.84" stroke="#2b7bba" stroke-opacity="0.5" stroke-width="0.8"><circle cx="344.30" cy="415.12" r="3.2"/><circle cx="355.82" cy="399.44" r="3.2"/><circle cx="367.35" cy="387.43" r="3.2"/><circle cx="378.88" cy="370.59" r="3.2"/><circle cx="390.40" cy="360.32" r="3.2"/><circle cx="401.93" cy="353.16" r="3.2"/><circle cx="413.46" cy="341.54" r="3.2"/><circle cx="424.98" cy="333.02" r="3.2"/><circle cx="436.51" cy="321.60" r="3.2"/><circle cx="448.04" cy="316.76" r="3.2"/><circle cx="459.56" cy="308.43" r="3.2"/><circle cx="471.09" cy="304.17" r="3.2"/><circle cx="482.62" cy="299.33" r="3.2"/><circle cx="494.14" cy="294.49" r="3.2"/><circle cx="505.67" cy="291.00" r="3.2"/></g>
<path d="M344.30 428.22V435.72M355.82 417.33V426.08M367.35 407.41V417.03M378.88 393.59V404.12M390.40 386.25V397.14M401.93 375.79V387.07M413.46 366.00V377.50M424.98 358.98V370.57M436.51 348.90V360.51M448.04 339.27V350.78M459.56 332.75V344.13M471.09 329.32V340.60M482.62 320.00V330.94M494.14 316.21V326.98M505.67 310.94V321.41" stroke="#0b559f" stroke-opacity="0.85" stroke-width="1.3" fill="none"/>
<polyline points="344.30,431.97 355.82,421.71 367.35,412.22 378.88,398.86 390.40,391.69 401.93,381.43 413.46,371.75 424.98,364.78 436.51,354.71 448.04,345.03 459.56,338.44 471.09,334.96 482.62,325.47 494.14,321.60 505.67,316.17" stroke="#0b559f" stroke-opacity="0.92" stroke-width="1.95" fill="none" stroke-linejoin="round"/>
<g fill="#0b559f" fill-opacity="0.84" stroke="#0b559f" stroke-opacity="0.5" stroke-width="0.8"><circle cx="344.30" cy="431.97" r="3.2"/><circle cx="355.82" cy="421.71" r="3.2"/><circle cx="367.35" cy="412.22" r="3.2"/><circle cx="378.88" cy="398.86" r="3.2"/><circle cx="390.40" cy="391.69" r="3.2"/><circle cx="401.93" cy="381.43" r="3.2"/><circle cx="413.46" cy="371.75" r="3.2"/><circle cx="424.98" cy="364.78" r="3.2"/><circle cx="436.51" cy="354.71" r="3.2"/><circle cx="448.04" cy="345.03" r="3.2"/><circle cx="459.56" cy="338.44" r="3.2"/><circle cx="471.09" cy="334.96" r="3.2"/><circle cx="482.62" cy="325.47" r="3.2"/><circle cx="494.14" cy="321.60" r="3.2"/><circle cx="505.67" cy="316.17" r="3.2"/></g>
</g>
<g>
<path d="M540.25 251.50V464.50M597.88 251.50V464.50M655.52 251.50V464.50M713.15 251.50V464.50M522.96 454.82H730.44M522.96 406.41H730.44M522.96 358.00H730.44M522.96 309.59H730.44M522.96 261.18H730.44" stroke="#b0b0b0" stroke-width="1.05" fill="none"/>
<path d="M551.78 431.60V441.25M563.30 420.28V432.43M574.83 408.32V422.70M586.36 394.09V410.60M597.88 383.66V401.66M609.41 372.73V392.07M620.94 359.54V380.08M632.46 353.52V374.87M643.99 341.93V364.00M655.52 335.63V358.29M667.04 324.10V346.97M678.57 319.64V342.92M690.10 308.95V331.92M701.62 306.98V330.40M713.15 302.67V326.19" stroke="#e2e2ef" stroke-opacity="0.85" stroke-width="1.3" fill="none"/>
<polyline points="551.78,436.42 563.30,426.35 574.83,415.51 586.36,402.34 597.88,392.66 609.41,382.40 620.94,369.81 632.46,364.20 643.99,352.97 655.52,346.96 667.04,335.54 678.57,331.28 690.10,320.43 701.62,318.69 713.15,314.43" stroke="#e2e2ef" stroke-opacity="0.92" stroke-width="1.95" fill="none" stroke-linejoin="round"/>
<g fill="#e2e2ef" fill-opacity="0.84" stroke="#e2e2ef" stroke-opacity="0.5" stroke-width="0.8"><circle cx="551.78" cy="436.42" r="3.2"/><circle cx="563.30" cy="426.35" r="3.2"/><circle cx="574.83" cy="415.51" r="3.2"/><circle cx="586.36" cy="402.34" r="3.2"/><circle cx="597.88" cy="392.66" r="3.2"/><circle cx="609.41" cy="382.40" r="3.2"/><circle cx="620.94" cy="369.81" r="3.2"/><circle cx="632.46" cy="364.20" r="3.2"/><circle cx="643.99" cy="352.97" r="3.2"/><circle cx="655.52" cy="346.96" r="3.2"/><circle cx="667.04" cy="335.54" r="3.2"/><circle cx="678.57" cy="331.28" r="3.2"/><circle cx="690.10" cy="320.43" r="3.2"/><circle cx="701.62" cy="318.69" r="3.2"/><circle cx="713.15" cy="314.43" r="3.2"/></g>
<path d="M551.78 427.94V438.32M563.30 416.71V429.42M574.83 404.82V419.62M586.36 390.64V407.46M597.88 380.25V398.49M609.41 369.35V388.86M620.94 356.21V376.83M632.46 350.21V371.60M643.99 338.66V360.68M655.52 332.39V354.95M667.04 320.91V343.58M678.57 316.47V339.50M690.10 305.84V328.44M701.62 303.89V326.91M713.15 299.62V322.66" stroke="#cccce4" stroke-opacity="0.85" stroke-width="1.3" fill="none"/>
<polyline points="551.78,433.13 563.30,423.06 574.83,412.22 586.36,399.05 597.88,389.37 609.41,379.11 620.94,366.52 632.46,360.90 643.99,349.67 655.52,343.67 667.04,332.25 678.57,327.99 690.10,317.14 701.62,315.40 713.15,311.14" stroke="#cccce4" stroke-opacity="0.92" stroke-width="1.95" fill="none" stroke-linejoin="round"/>
<g fill="#cccce4" fill-opacity="0.84" stroke="#cccce4" stroke-opacity="0.5" stroke-width="0.8"><circle cx="551.78" cy="433.13" r="3.2"/><circle cx="563.30" cy="423.06" r="3.2"/><circle cx="574.83" cy="412.22" r="3.2"/><circle cx="586.36" cy="399.05" r="3.2"/><circle cx="597.88" cy="389.37" r="3.2"/><circle cx="609.41" cy="379.11" r="3.2"/><circle cx="620.94" cy="366.52" r="3.2"/><circle cx="632.46" cy="360.90" r="3.2"/><circle cx="643.99" cy="349.67" r="3.2"/><circle cx="655.52" cy="343.67" r="3.2"/><circle cx="667.04" cy="332.25" r="3.2"/><circle cx="678.57" cy="327.99" r="3.2"/><circle cx="690.10" cy="317.14" r="3.2"/><circle cx="701.62" cy="315.40" r="3.2"/><circle cx="713.15" cy="311.14" r="3.2"/></g>
<path d="M551.78 427.30V437.80M563.30 416.08V428.88M574.83 404.20V419.08M586.36 390.03V406.91M597.88 379.65V397.93M609.41 368.76V388.29M620.94 355.63V376.25M632.46 349.63V371.02M643.99 338.09V360.10M655.52 331.82V354.36M667.04 320.35V342.98M678.57 315.92V338.89M690.10 305.30V327.82M701.62 303.35V326.29M713.15 299.08V322.04" stroke="#afaed4" stroke-opacity="0.85" stroke-width="1.3" fill="none"/>
<polyline points="551.78,432.55 563.30,422.48 574.83,411.64 586.36,398.47 597.88,388.79 609.41,378.53 620.94,365.94 632.46,360.32 643.99,349.09 655.52,343.09 667.04,331.67 678.57,327.41 690.10,316.56 701.62,314.82 713.15,310.56" stroke="#afaed4" stroke-opacity="0.92" stroke-width="1.95" fill="none" stroke-linejoin="round"/>
<g fill="#afaed4" fill-opacity="0.84" stroke="#afaed4" stroke-opacity="0.5" stroke-width="0.8"><circle cx="551.78" cy="432.55" r="3.2"/><circle cx="563.30" cy="422.48" r="3.2"/><circle cx="574.83" cy="411.64" r="3.2"/><circle cx="586.36" cy="398.47" r="3.2"/><circle cx="597.88" cy="388.79" r="3.2"/><circle cx="609.41" cy="378.53" r="3.2"/><circle cx="620.94" cy="365.94" r="3.2"/><circle cx="632.46" cy="360.32" r="3.2"/><circle cx="643.99" cy="349.09" r="3.2"/><circle cx="655.52" cy="343.09" r="3.2"/><circle cx="667.04" cy="331.67" r="3.2"/><circle cx="678.57" cy="327.41" r="3.2"/><circle cx="690.10" cy="316.56" r="3.2"/><circle cx="701.62" cy="314.82" r="3.2"/><circle cx="713.15" cy="310.56" r="3.2"/></g>
<path d="M551.78 416.34V428.62M563.30 398.77V413.66M574.83 386.53V403.06M586.36 369.45V387.60M597.88 356.92V376.12M609.41 346.27V366.25M620.94 333.44V353.90M632.46 327.59V348.52M643.99 315.80V336.68M655.52 310.29V331.35M667.04 301.39V322.05M678.57 296.06V316.54M690.10 289.76V309.67M701.62 286.19V305.88M713.15 282.85V302.25" stroke="#8d89c0" stroke-opacity="0.85" stroke-width="1.3" fill="none"/>
<polyline points="551.78,422.48 563.30,406.22 574.83,394.79 586.36,378.53 597.88,366.52 609.41,356.26 620.94,343.67 632.46,338.06 643.99,326.24 655.52,320.82 667.04,311.72 678.57,306.30 690.10,299.72 701.62,296.04 713.15,292.55" stroke="#8d89c0" stroke-opacity="0.92" stroke-width="1.95" fill="none" stroke-linejoin="round"/>
<g fill="#8d89c0" fill-opacity="0.84" stroke="#8d89c0" stroke-opacity="0.5" stroke-width="0.8"><circle cx="551.78" cy="422.48" r="3.2"/><circle cx="563.30" cy="406.22" r="3.2"/><circle cx="574.83" cy="394.79" r="3.2"/><circle cx="586.36" cy="378.53" r="3.2"/><circle cx="597.88" cy="366.52" r="3.2"/><circle cx="609.41" cy="356.26" r="3.2"/><circle cx="620.94" cy="343.67" r="3.2"/><circle cx="632.46" cy="338.06" r="3.2"/><circle cx="643.99" cy="326.24" r="3.2"/><circle cx="655.52" cy="320.82" r="3.2"/><circle cx="667.04" cy="311.72" r="3.2"/><circle cx="678.57" cy="306.30" r="3.2"/><circle cx="690.10" cy="299.72" r="3.2"/><circle cx="701.62" cy="296.04" r="3.2"/><circle cx="713.15" cy="292.55" r="3.2"/></g>
<path d="M551.78 399.69V413.90M563.30 383.25V399.36M574.83 369.20V386.69M586.36 351.23V369.80M597.88 338.34V357.52M609.41 330.74V350.40M620.94 320.58V340.42M632.46 310.94V330.70M643.99 300.93V320.19M655.52 295.05V314.07M667.04 288.22V306.56M678.57 284.66V302.77M690.10 280.15V297.60M701.62 276.75V293.64M713.15 273.60V289.81" stroke="#6a51a3" stroke-opacity="0.85" stroke-width="1.3" fill="none"/>
<polyline points="551.78,406.80 563.30,391.31 574.83,377.94 586.36,360.52 597.88,347.93 609.41,340.57 620.94,330.50 632.46,320.82 643.99,310.56 655.52,304.56 667.04,297.39 678.57,293.71 690.10,288.87 701.62,285.19 713.15,281.71" stroke="#6a51a3" stroke-opacity="0.92" stroke-width="1.95" fill="none" stroke-linejoin="round"/>
<g fill="#6a51a3" fill-opacity="0.84" stroke="#6a51a3" stroke-opacity="0.5" stroke-width="0.8"><circle cx="551.78" cy="406.80" r="3.2"/><circle cx="563.30" cy="391.31" r="3.2"/><circle cx="574.83" cy="377.94" r="3.2"/><circle cx="586.36" cy="360.52" r="3.2"/><circle cx="597.88" cy="347.93" r="3.2"/><circle cx="609.41" cy="340.57" r="3.2"/><circle cx="620.94" cy="330.50" r="3.2"/><circle cx="632.46" cy="320.82" r="3.2"/><circle cx="643.99" cy="310.56" r="3.2"/><circle cx="655.52" cy="304.56" r="3.2"/><circle cx="667.04" cy="297.39" r="3.2"/><circle cx="678.57" cy="293.71" r="3.2"/><circle cx="690.10" cy="288.87" r="3.2"/><circle cx="701.62" cy="285.19" r="3.2"/><circle cx="713.15" cy="281.71" r="3.2"/></g>
<path d="M551.78 416.97V429.16M563.30 405.93V420.06M574.83 393.59V409.55M586.36 375.60V393.46M597.88 369.10V387.95M609.41 358.33V378.20M620.94 347.85V368.54M632.46 339.97V361.31M643.99 327.43V349.07M655.52 318.26V340.03M667.04 311.62V333.51M678.57 307.99V330.17M690.10 298.62V320.18M701.62 297.24V319.23M713.15 291.29V312.78" stroke="#572c92" stroke-opacity="0.85" stroke-width="1.3" fill="none"/>
<polyline points="551.78,423.06 563.30,412.99 574.83,401.57 586.36,384.53 597.88,378.53 609.41,368.26 620.94,358.19 632.46,350.64 643.99,338.25 655.52,329.15 667.04,322.56 678.57,319.08 690.10,309.40 701.62,308.24 713.15,302.04" stroke="#572c92" stroke-opacity="0.92" stroke-width="1.95" fill="none" stroke-linejoin="round"/>
<g fill="#572c92" fill-opacity="0.84" stroke="#572c92" stroke-opacity="0.5" stroke-width="0.8"><circle cx="551.78" cy="423.06" r="3.2"/><circle cx="563.30" cy="412.99" r="3.2"/><circle cx="574.83" cy="401.57" r="3.2"/><circle cx="586.36" cy="384.53" r="3.2"/><circle cx="597.88" cy="378.53" r="3.2"/><circle cx="609.41" cy="368.26" r="3.2"/><circle cx="620.94" cy="358.19" r="3.2"/><circle cx="632.46" cy="350.64" r="3.2"/><circle cx="643.99" cy="338.25" r="3.2"/><circle cx="655.52" cy="329.15" r="3.2"/><circle cx="667.04" cy="322.56" r="3.2"/><circle cx="678.57" cy="319.08" r="3.2"/><circle cx="690.10" cy="309.40" r="3.2"/><circle cx="701.62" cy="308.24" r="3.2"/><circle cx="713.15" cy="302.04" r="3.2"/></g>
</g>
<g>
<path d="M125.29 464.50V677.50M182.92 464.50V677.50M240.56 464.50V677.50M298.19 464.50V677.50M108.00 667.82H315.48M108.00 619.41H315.48M108.00 571.00H315.48M108.00 522.59H315.48M108.00 474.18H315.48" stroke="#b0b0b0" stroke-width="1.05" fill="none"/>
<path d="M252.08 474.18V633.74M298.19 478.05V554.73" stroke="#fdcab5" stroke-opacity="0.85" stroke-width="1.5" fill="none"/>
<polyline points="136.82,627.15 148.34,622.31 159.87,581.26 171.40,571.00 182.92,551.64 194.45,581.26 205.98,571.97 217.50,530.92 229.03,549.51 240.56,536.92 252.08,515.04 263.61,500.32 275.14,502.45 286.66,499.74 298.19,501.68" stroke="#fdcab5" stroke-opacity="0.88" stroke-width="1.95" fill="none" stroke-linejoin="round"/>
<g fill="#fdcab5" fill-opacity="0.8" stroke="#fdcab5" stroke-opacity="0.5" stroke-width="0.8"><circle cx="136.82" cy="627.15" r="3.2"/><circle cx="148.34" cy="622.31" r="3.2"/><circle cx="159.87" cy="581.26" r="3.2"/><circle cx="171.40" cy="571.00" r="3.2"/><circle cx="182.92" cy="551.64" r="3.2"/><circle cx="194.45" cy="581.26" r="3.2"/><circle cx="205.98" cy="571.97" r="3.2"/><circle cx="217.50" cy="530.92" r="3.2"/><circle cx="229.03" cy="549.51" r="3.2"/><circle cx="240.56" cy="536.92" r="3.2"/><circle cx="252.08" cy="515.04" r="3.2"/><circle cx="263.61" cy="500.32" r="3.2"/><circle cx="275.14" cy="502.45" r="3.2"/><circle cx="286.66" cy="499.74" r="3.2"/><circle cx="298.19" cy="501.68" r="3.2"/></g>
<path d="M182.92 474.18V666.85M194.45 474.18V665.88M205.98 474.18V662.40M217.50 474.18V653.10M229.03 474.18V660.07M240.56 474.18V650.97M263.61 474.18V574.29M275.14 474.18V556.09M286.66 474.18V551.64" stroke="#fca78b" stroke-opacity="0.85" stroke-width="1.5" fill="none"/>
<polyline points="136.82,629.67 148.34,575.45 159.87,602.56 171.40,603.14 182.92,547.76 194.45,568.10 205.98,533.43 217.50,510.39 229.03,532.27 240.56,502.45 252.08,512.91 263.61,498.39 275.14,501.29 286.66,499.35 298.19,501.29" stroke="#fca78b" stroke-opacity="0.88" stroke-width="1.95" fill="none" stroke-linejoin="round"/>
<g fill="#fca78b" fill-opacity="0.8" stroke="#fca78b" stroke-opacity="0.5" stroke-width="0.8"><circle cx="136.82" cy="629.67" r="3.2"/><circle cx="148.34" cy="575.45" r="3.2"/><circle cx="159.87" cy="602.56" r="3.2"/><circle cx="171.40" cy="603.14" r="3.2"/><circle cx="182.92" cy="547.76" r="3.2"/><circle cx="194.45" cy="568.10" r="3.2"/><circle cx="205.98" cy="533.43" r="3.2"/><circle cx="217.50" cy="510.39" r="3.2"/><circle cx="229.03" cy="532.27" r="3.2"/><circle cx="240.56" cy="502.45" r="3.2"/><circle cx="252.08" cy="512.91" r="3.2"/><circle cx="263.61" cy="498.39" r="3.2"/><circle cx="275.14" cy="501.29" r="3.2"/><circle cx="286.66" cy="499.35" r="3.2"/><circle cx="298.19" cy="501.29" r="3.2"/></g>
<path d="M229.03 474.18V647.49M252.08 474.18V608.57" stroke="#fc8161" stroke-opacity="0.85" stroke-width="1.5" fill="none"/>
<polyline points="136.82,634.32 148.34,634.32 159.87,596.17 171.40,596.56 182.92,593.27 194.45,563.25 205.98,540.02 217.50,529.56 229.03,532.27 240.56,530.34 252.08,505.16 263.61,495.48 275.14,491.22 286.66,492.58 298.19,490.45" stroke="#fc8161" stroke-opacity="0.88" stroke-width="1.95" fill="none" stroke-linejoin="round"/>
<g fill="#fc8161" fill-opacity="0.8" stroke="#fc8161" stroke-opacity="0.5" stroke-width="0.8"><circle cx="136.82" cy="634.32" r="3.2"/><circle cx="148.34" cy="634.32" r="3.2"/><circle cx="159.87" cy="596.17" r="3.2"/><circle cx="171.40" cy="596.56" r="3.2"/><circle cx="182.92" cy="593.27" r="3.2"/><circle cx="194.45" cy="563.25" r="3.2"/><circle cx="205.98" cy="540.02" r="3.2"/><circle cx="217.50" cy="529.56" r="3.2"/><circle cx="229.03" cy="532.27" r="3.2"/><circle cx="240.56" cy="530.34" r="3.2"/><circle cx="252.08" cy="505.16" r="3.2"/><circle cx="263.61" cy="495.48" r="3.2"/><circle cx="275.14" cy="491.22" r="3.2"/><circle cx="286.66" cy="492.58" r="3.2"/><circle cx="298.19" cy="490.45" r="3.2"/></g>
<path d="M194.45 474.18V660.07M205.98 474.18V660.07M217.50 474.18V638.39M229.03 474.18V624.64M240.56 474.18V582.62M263.61 474.18V505.16" stroke="#f44f39" stroke-opacity="0.85" stroke-width="1.5" fill="none"/>
<polyline points="136.82,625.61 148.34,578.75 159.87,596.56 171.40,587.27 182.92,530.92 194.45,553.38 205.98,538.86 217.50,528.21 229.03,522.20 240.56,510.39 252.08,503.03 263.61,493.16 275.14,497.42 286.66,491.80 298.19,479.02" stroke="#f44f39" stroke-opacity="0.88" stroke-width="1.95" fill="none" stroke-linejoin="round"/>
<g fill="#f44f39" fill-opacity="0.8" stroke="#f44f39" stroke-opacity="0.5" stroke-width="0.8"><circle cx="136.82" cy="625.61" r="3.2"/><circle cx="148.34" cy="578.75" r="3.2"/><circle cx="159.87" cy="596.56" r="3.2"/><circle cx="171.40" cy="587.27" r="3.2"/><circle cx="182.92" cy="530.92" r="3.2"/><circle cx="194.45" cy="553.38" r="3.2"/><circle cx="205.98" cy="538.86" r="3.2"/><circle cx="217.50" cy="528.21" r="3.2"/><circle cx="229.03" cy="522.20" r="3.2"/><circle cx="240.56" cy="510.39" r="3.2"/><circle cx="252.08" cy="503.03" r="3.2"/><circle cx="263.61" cy="493.16" r="3.2"/><circle cx="275.14" cy="497.42" r="3.2"/><circle cx="286.66" cy="491.80" r="3.2"/><circle cx="298.19" cy="479.02" r="3.2"/></g>
<path d="M136.82 474.18V667.82M194.45 474.18V645.16M205.98 474.18V629.09M217.50 474.18V590.36M229.03 474.18V585.72M252.08 474.18V557.45M275.14 474.18V495.48" stroke="#d52221" stroke-opacity="0.85" stroke-width="1.5" fill="none"/>
<polyline points="136.82,613.60 148.34,585.91 159.87,566.16 171.40,557.45 182.92,522.59 194.45,511.75 205.98,497.03 217.50,494.51 229.03,491.80 240.56,490.45 252.08,483.28 263.61,481.93 275.14,483.28 286.66,475.92 298.19,478.64" stroke="#d52221" stroke-opacity="0.88" stroke-width="1.95" fill="none" stroke-linejoin="round"/>
<g fill="#d52221" fill-opacity="0.8" stroke="#d52221" stroke-opacity="0.5" stroke-width="0.8"><circle cx="136.82" cy="613.60" r="3.2"/><circle cx="148.34" cy="585.91" r="3.2"/><circle cx="159.87" cy="566.16" r="3.2"/><circle cx="171.40" cy="557.45" r="3.2"/><circle cx="182.92" cy="522.59" r="3.2"/><circle cx="194.45" cy="511.75" r="3.2"/><circle cx="205.98" cy="497.03" r="3.2"/><circle cx="217.50" cy="494.51" r="3.2"/><circle cx="229.03" cy="491.80" r="3.2"/><circle cx="240.56" cy="490.45" r="3.2"/><circle cx="252.08" cy="483.28" r="3.2"/><circle cx="263.61" cy="481.93" r="3.2"/><circle cx="275.14" cy="483.28" r="3.2"/><circle cx="286.66" cy="475.92" r="3.2"/><circle cx="298.19" cy="478.64" r="3.2"/></g>
<path d="M136.82 541.95V667.82M148.34 474.18V667.82M159.87 474.18V667.82M171.40 474.18V667.82M182.92 474.18V656.59" stroke="#aa1016" stroke-opacity="0.85" stroke-width="1.5" fill="none"/>
<polyline points="136.82,612.44 148.34,597.14 159.87,566.16 171.40,556.09 182.92,522.20 194.45,503.81 205.98,522.20 217.50,494.51 229.03,509.04 240.56,491.61 252.08,484.83 263.61,491.22 275.14,485.80 286.66,477.09 298.19,475.92" stroke="#aa1016" stroke-opacity="0.88" stroke-width="1.95" fill="none" stroke-linejoin="round"/>
<g fill="#aa1016" fill-opacity="0.8" stroke="#aa1016" stroke-opacity="0.5" stroke-width="0.8"><circle cx="136.82" cy="612.44" r="3.2"/><circle cx="148.34" cy="597.14" r="3.2"/><circle cx="159.87" cy="566.16" r="3.2"/><circle cx="171.40" cy="556.09" r="3.2"/><circle cx="182.92" cy="522.20" r="3.2"/><circle cx="194.45" cy="503.81" r="3.2"/><circle cx="205.98" cy="522.20" r="3.2"/><circle cx="217.50" cy="494.51" r="3.2"/><circle cx="229.03" cy="509.04" r="3.2"/><circle cx="240.56" cy="491.61" r="3.2"/><circle cx="252.08" cy="484.83" r="3.2"/><circle cx="263.61" cy="491.22" r="3.2"/><circle cx="275.14" cy="485.80" r="3.2"/><circle cx="286.66" cy="477.09" r="3.2"/><circle cx="298.19" cy="475.92" r="3.2"/></g>
</g>
<g>
<path d="M332.77 464.50V677.50M390.40 464.50V677.50M448.04 464.50V677.50M505.67 464.50V677.50M315.48 667.82H522.96M315.48 619.41H522.96M315.48 571.00H522.96M315.48 522.59H522.96M315.48 474.18H522.96" stroke="#b0b0b0" stroke-width="1.05" fill="none"/>
<path d="M344.30 666.68V667.41M355.82 666.61V667.37M367.35 666.54V667.32M378.88 666.47V667.28M390.40 666.41V667.24M401.93 666.34V667.19M413.46 666.27V667.15M424.98 666.21V667.10M436.51 666.14V667.06M448.04 666.08V667.02M459.56 666.01V666.97M471.09 665.95V666.92M482.62 665.88V666.88M494.14 665.82V666.83M505.67 665.75V666.79" stroke="#d0e1f2" stroke-opacity="0.85" stroke-width="1.3" fill="none"/>
<polyline points="344.30,667.04 355.82,666.99 367.35,666.93 378.88,666.88 390.40,666.82 401.93,666.77 413.46,666.71 424.98,666.66 436.51,666.60 448.04,666.55 459.56,666.49 471.09,666.44 482.62,666.38 494.14,666.32 505.67,666.27" stroke="#d0e1f2" stroke-opacity="0.92" stroke-width="1.95" fill="none" stroke-linejoin="round"/>
<g fill="#d0e1f2" fill-opacity="0.84" stroke="#d0e1f2" stroke-opacity="0.5" stroke-width="0.8"><circle cx="344.30" cy="667.04" r="3.2"/><circle cx="355.82" cy="666.99" r="3.2"/><circle cx="367.35" cy="666.93" r="3.2"/><circle cx="378.88" cy="666.88" r="3.2"/><circle cx="390.40" cy="666.82" r="3.2"/><circle cx="401.93" cy="666.77" r="3.2"/><circle cx="413.46" cy="666.71" r="3.2"/><circle cx="424.98" cy="666.66" r="3.2"/><circle cx="436.51" cy="666.60" r="3.2"/><circle cx="448.04" cy="666.55" r="3.2"/><circle cx="459.56" cy="666.49" r="3.2"/><circle cx="471.09" cy="666.44" r="3.2"/><circle cx="482.62" cy="666.38" r="3.2"/><circle cx="494.14" cy="666.32" r="3.2"/><circle cx="505.67" cy="666.27" r="3.2"/></g>
<path d="M344.30 666.68V667.41M355.82 666.54V667.32M367.35 666.41V667.24M378.88 666.27V667.15M390.40 666.14V667.06M401.93 666.01V666.97M413.46 665.88V666.88M424.98 665.75V666.79M436.51 665.62V666.69M448.04 665.49V666.60M459.56 665.37V666.51M471.09 665.24V666.41M482.62 665.11V666.32M494.14 664.99V666.22M505.67 664.86V666.13" stroke="#b3d3e8" stroke-opacity="0.85" stroke-width="1.3" fill="none"/>
<polyline points="344.30,667.04 355.82,666.93 367.35,666.82 378.88,666.71 390.40,666.60 401.93,666.49 413.46,666.38 424.98,666.27 436.51,666.16 448.04,666.05 459.56,665.94 471.09,665.83 482.62,665.72 494.14,665.61 505.67,665.49" stroke="#b3d3e8" stroke-opacity="0.92" stroke-width="1.95" fill="none" stroke-linejoin="round"/>
<g fill="#b3d3e8" fill-opacity="0.84" stroke="#b3d3e8" stroke-opacity="0.5" stroke-width="0.8"><circle cx="344.30" cy="667.04" r="3.2"/><circle cx="355.82" cy="666.93" r="3.2"/><circle cx="367.35" cy="666.82" r="3.2"/><circle cx="378.88" cy="666.71" r="3.2"/><circle cx="390.40" cy="666.60" r="3.2"/><circle cx="401.93" cy="666.49" r="3.2"/><circle cx="413.46" cy="666.38" r="3.2"/><circle cx="424.98" cy="666.27" r="3.2"/><circle cx="436.51" cy="666.16" r="3.2"/><circle cx="448.04" cy="666.05" r="3.2"/><circle cx="459.56" cy="665.94" r="3.2"/><circle cx="471.09" cy="665.83" r="3.2"/><circle cx="482.62" cy="665.72" r="3.2"/><circle cx="494.14" cy="665.61" r="3.2"/><circle cx="505.67" cy="665.49" r="3.2"/></g>
<path d="M344.30 666.44V667.26M355.82 666.26V667.14M367.35 666.08V667.02M378.88 665.90V666.89M390.40 665.72V666.76M401.93 665.54V666.64M413.46 665.37V666.51M424.98 665.19V666.38M436.51 665.02V666.25M448.04 664.85V666.12M459.56 664.67V665.98M471.09 664.50V665.85M482.62 664.33V665.72M494.14 664.16V665.58M505.67 663.99V665.45" stroke="#89bedc" stroke-opacity="0.85" stroke-width="1.3" fill="none"/>
<polyline points="344.30,666.85 355.82,666.70 367.35,666.55 378.88,666.39 390.40,666.24 401.93,666.09 413.46,665.94 424.98,665.78 436.51,665.63 448.04,665.48 459.56,665.33 471.09,665.18 482.62,665.02 494.14,664.87 505.67,664.72" stroke="#89bedc" stroke-opacity="0.92" stroke-width="1.95" fill="none" stroke-linejoin="round"/>
<g fill="#89bedc" fill-opacity="0.84" stroke="#89bedc" stroke-opacity="0.5" stroke-width="0.8"><circle cx="344.30" cy="666.85" r="3.2"/><circle cx="355.82" cy="666.70" r="3.2"/><circle cx="367.35" cy="666.55" r="3.2"/><circle cx="378.88" cy="666.39" r="3.2"/><circle cx="390.40" cy="666.24" r="3.2"/><circle cx="401.93" cy="666.09" r="3.2"/><circle cx="413.46" cy="665.94" r="3.2"/><circle cx="424.98" cy="665.78" r="3.2"/><circle cx="436.51" cy="665.63" r="3.2"/><circle cx="448.04" cy="665.48" r="3.2"/><circle cx="459.56" cy="665.33" r="3.2"/><circle cx="471.09" cy="665.18" r="3.2"/><circle cx="482.62" cy="665.02" r="3.2"/><circle cx="494.14" cy="664.87" r="3.2"/><circle cx="505.67" cy="664.72" r="3.2"/></g>
<path d="M344.30 666.21V667.10M355.82 665.82V666.83M367.35 665.43V666.55M378.88 665.05V666.27M390.40 664.67V665.98M401.93 664.30V665.69M413.46 663.93V665.40M424.98 663.56V665.11M436.51 663.19V664.81M448.04 662.83V664.51M459.56 662.46V664.21M471.09 662.10V663.91M482.62 661.74V663.61M494.14 661.38V663.30M505.67 661.02V663.00" stroke="#539ecd" stroke-opacity="0.85" stroke-width="1.3" fill="none"/>
<polyline points="344.30,666.66 355.82,666.32 367.35,665.99 378.88,665.66 390.40,665.33 401.93,665.00 413.46,664.66 424.98,664.33 436.51,664.00 448.04,663.67 459.56,663.34 471.09,663.00 482.62,662.67 494.14,662.34 505.67,662.01" stroke="#539ecd" stroke-opacity="0.92" stroke-width="1.95" fill="none" stroke-linejoin="round"/>
<g fill="#539ecd" fill-opacity="0.84" stroke="#539ecd" stroke-opacity="0.5" stroke-width="0.8"><circle cx="344.30" cy="666.66" r="3.2"/><circle cx="355.82" cy="666.32" r="3.2"/><circle cx="367.35" cy="665.99" r="3.2"/><circle cx="378.88" cy="665.66" r="3.2"/><circle cx="390.40" cy="665.33" r="3.2"/><circle cx="401.93" cy="665.00" r="3.2"/><circle cx="413.46" cy="664.66" r="3.2"/><circle cx="424.98" cy="664.33" r="3.2"/><circle cx="436.51" cy="664.00" r="3.2"/><circle cx="448.04" cy="663.67" r="3.2"/><circle cx="459.56" cy="663.34" r="3.2"/><circle cx="471.09" cy="663.00" r="3.2"/><circle cx="482.62" cy="662.67" r="3.2"/><circle cx="494.14" cy="662.34" r="3.2"/><circle cx="505.67" cy="662.01" r="3.2"/></g>
<path d="M344.30 665.98V666.95M355.82 665.29V666.45M367.35 664.61V665.93M378.88 663.94V665.41M390.40 663.28V664.88M401.93 662.63V664.35M413.46 661.98V663.81M424.98 661.33V663.27M436.51 660.69V662.72M448.04 660.05V662.17M459.56 659.41V661.62M471.09 658.77V661.07M482.62 658.14V660.52M494.14 657.50V659.96M505.67 656.87V659.40" stroke="#2b7bba" stroke-opacity="0.85" stroke-width="1.3" fill="none"/>
<polyline points="344.30,666.46 355.82,665.87 367.35,665.27 378.88,664.68 390.40,664.08 401.93,663.49 413.46,662.89 424.98,662.30 436.51,661.70 448.04,661.11 459.56,660.52 471.09,659.92 482.62,659.33 494.14,658.73 505.67,658.14" stroke="#2b7bba" stroke-opacity="0.92" stroke-width="1.95" fill="none" stroke-linejoin="round"/>
<g fill="#2b7bba" fill-opacity="0.84" stroke="#2b7bba" stroke-opacity="0.5" stroke-width="0.8"><circle cx="344.30" cy="666.46" r="3.2"/><circle cx="355.82" cy="665.87" r="3.2"/><circle cx="367.35" cy="665.27" r="3.2"/><circle cx="378.88" cy="664.68" r="3.2"/><circle cx="390.40" cy="664.08" r="3.2"/><circle cx="401.93" cy="663.49" r="3.2"/><circle cx="413.46" cy="662.89" r="3.2"/><circle cx="424.98" cy="662.30" r="3.2"/><circle cx="436.51" cy="661.70" r="3.2"/><circle cx="448.04" cy="661.11" r="3.2"/><circle cx="459.56" cy="660.52" r="3.2"/><circle cx="471.09" cy="659.92" r="3.2"/><circle cx="482.62" cy="659.33" r="3.2"/><circle cx="494.14" cy="658.73" r="3.2"/><circle cx="505.67" cy="658.14" r="3.2"/></g>
<path d="M344.30 666.44V667.26M355.82 666.32V667.18M367.35 666.21V667.10M378.88 666.09V667.03M390.40 665.98V666.95M401.93 665.86V666.87M413.46 665.75V666.79M424.98 665.64V666.71M436.51 665.53V666.62M448.04 665.42V666.54M459.56 665.30V666.46M471.09 665.19V666.38M482.62 665.08V666.29M494.14 664.97V666.21M505.67 664.86V666.13" stroke="#0b559f" stroke-opacity="0.85" stroke-width="1.3" fill="none"/>
<polyline points="344.30,666.85 355.82,666.75 367.35,666.66 378.88,666.56 390.40,666.46 401.93,666.37 413.46,666.27 424.98,666.17 436.51,666.08 448.04,665.98 459.56,665.88 471.09,665.78 482.62,665.69 494.14,665.59 505.67,665.49" stroke="#0b559f" stroke-opacity="0.92" stroke-width="1.95" fill="none" stroke-linejoin="round"/>
<g fill="#0b559f" fill-opacity="0.84" stroke="#0b559f" stroke-opacity="0.5" stroke-width="0.8"><circle cx="344.30" cy="666.85" r="3.2"/><circle cx="355.82" cy="666.75" r="3.2"/><circle cx="367.35" cy="666.66" r="3.2"/><circle cx="378.88" cy="666.56" r="3.2"/><circle cx="390.40" cy="666.46" r="3.2"/><circle cx="401.93" cy="666.37" r="3.2"/><circle cx="413.46" cy="666.27" r="3.2"/><circle cx="424.98" cy="666.17" r="3.2"/><circle cx="436.51" cy="666.08" r="3.2"/><circle cx="448.04" cy="665.98" r="3.2"/><circle cx="459.56" cy="665.88" r="3.2"/><circle cx="471.09" cy="665.78" r="3.2"/><circle cx="482.62" cy="665.69" r="3.2"/><circle cx="494.14" cy="665.59" r="3.2"/><circle cx="505.67" cy="665.49" r="3.2"/></g>
</g>
<g>
<path d="M540.25 464.50V677.50M597.88 464.50V677.50M655.52 464.50V677.50M713.15 464.50V677.50M522.96 667.82H730.44M522.96 619.41H730.44M522.96 571.00H730.44M522.96 522.59H730.44M522.96 474.18H730.44" stroke="#b0b0b0" stroke-width="1.05" fill="none"/>
<path d="M551.78 666.30V667.40M563.30 666.02V667.27M574.83 665.73V667.14M586.36 665.44V667.02M597.88 665.15V666.89M609.41 664.86V666.76M620.94 664.57V666.64M632.46 664.28V666.52M643.99 663.99V666.39M655.52 663.69V666.27M667.04 663.40V666.15M678.57 663.10V666.03M690.10 662.81V665.91M701.62 662.51V665.80M713.15 662.21V665.68" stroke="#e2e2ef" stroke-opacity="0.85" stroke-width="1.3" fill="none"/>
<polyline points="551.78,666.85 563.30,666.64 574.83,666.44 586.36,666.23 597.88,666.02 609.41,665.81 620.94,665.61 632.46,665.40 643.99,665.19 655.52,664.98 667.04,664.78 678.57,664.57 690.10,664.36 701.62,664.15 713.15,663.95" stroke="#e2e2ef" stroke-opacity="0.92" stroke-width="1.95" fill="none" stroke-linejoin="round"/>
<g fill="#e2e2ef" fill-opacity="0.84" stroke="#e2e2ef" stroke-opacity="0.5" stroke-width="0.8"><circle cx="551.78" cy="666.85" r="3.2"/><circle cx="563.30" cy="666.64" r="3.2"/><circle cx="574.83" cy="666.44" r="3.2"/><circle cx="586.36" cy="666.23" r="3.2"/><circle cx="597.88" cy="666.02" r="3.2"/><circle cx="609.41" cy="665.81" r="3.2"/><circle cx="620.94" cy="665.61" r="3.2"/><circle cx="632.46" cy="665.40" r="3.2"/><circle cx="643.99" cy="665.19" r="3.2"/><circle cx="655.52" cy="664.98" r="3.2"/><circle cx="667.04" cy="664.78" r="3.2"/><circle cx="678.57" cy="664.57" r="3.2"/><circle cx="690.10" cy="664.36" r="3.2"/><circle cx="701.62" cy="664.15" r="3.2"/><circle cx="713.15" cy="663.95" r="3.2"/></g>
<path d="M551.78 666.06V667.25M563.30 665.70V667.08M574.83 665.35V666.91M586.36 665.00V666.74M597.88 664.64V666.57M609.41 664.29V666.40M620.94 663.93V666.23M632.46 663.57V666.06M643.99 663.22V665.89M655.52 662.86V665.73M667.04 662.50V665.56M678.57 662.13V665.40M690.10 661.77V665.23M701.62 661.41V665.07M713.15 661.04V664.91" stroke="#cccce4" stroke-opacity="0.85" stroke-width="1.3" fill="none"/>
<polyline points="551.78,666.66 563.30,666.39 574.83,666.13 586.36,665.87 597.88,665.61 609.41,665.34 620.94,665.08 632.46,664.82 643.99,664.55 655.52,664.29 667.04,664.03 678.57,663.77 690.10,663.50 701.62,663.24 713.15,662.98" stroke="#cccce4" stroke-opacity="0.92" stroke-width="1.95" fill="none" stroke-linejoin="round"/>
<g fill="#cccce4" fill-opacity="0.84" stroke="#cccce4" stroke-opacity="0.5" stroke-width="0.8"><circle cx="551.78" cy="666.66" r="3.2"/><circle cx="563.30" cy="666.39" r="3.2"/><circle cx="574.83" cy="666.13" r="3.2"/><circle cx="586.36" cy="665.87" r="3.2"/><circle cx="597.88" cy="665.61" r="3.2"/><circle cx="609.41" cy="665.34" r="3.2"/><circle cx="620.94" cy="665.08" r="3.2"/><circle cx="632.46" cy="664.82" r="3.2"/><circle cx="643.99" cy="664.55" r="3.2"/><circle cx="655.52" cy="664.29" r="3.2"/><circle cx="667.04" cy="664.03" r="3.2"/><circle cx="678.57" cy="663.77" r="3.2"/><circle cx="690.10" cy="663.50" r="3.2"/><circle cx="701.62" cy="663.24" r="3.2"/><circle cx="713.15" cy="662.98" r="3.2"/></g>
<path d="M551.78 666.06V667.25M563.30 665.62V667.03M574.83 665.18V666.81M586.36 664.74V666.58M597.88 664.31V666.35M609.41 663.87V666.12M620.94 663.43V665.90M632.46 662.99V665.67M643.99 662.55V665.45M655.52 662.11V665.22M667.04 661.67V665.00M678.57 661.23V664.78M690.10 660.79V664.56M701.62 660.34V664.34M713.15 659.90V664.12" stroke="#afaed4" stroke-opacity="0.85" stroke-width="1.3" fill="none"/>
<polyline points="551.78,666.66 563.30,666.32 574.83,665.99 586.36,665.66 597.88,665.33 609.41,665.00 620.94,664.66 632.46,664.33 643.99,664.00 655.52,663.67 667.04,663.34 678.57,663.00 690.10,662.67 701.62,662.34 713.15,662.01" stroke="#afaed4" stroke-opacity="0.92" stroke-width="1.95" fill="none" stroke-linejoin="round"/>
<g fill="#afaed4" fill-opacity="0.84" stroke="#afaed4" stroke-opacity="0.5" stroke-width="0.8"><circle cx="551.78" cy="666.66" r="3.2"/><circle cx="563.30" cy="666.32" r="3.2"/><circle cx="574.83" cy="665.99" r="3.2"/><circle cx="586.36" cy="665.66" r="3.2"/><circle cx="597.88" cy="665.33" r="3.2"/><circle cx="609.41" cy="665.00" r="3.2"/><circle cx="620.94" cy="664.66" r="3.2"/><circle cx="632.46" cy="664.33" r="3.2"/><circle cx="643.99" cy="664.00" r="3.2"/><circle cx="655.52" cy="663.67" r="3.2"/><circle cx="667.04" cy="663.34" r="3.2"/><circle cx="678.57" cy="663.00" r="3.2"/><circle cx="690.10" cy="662.67" r="3.2"/><circle cx="701.62" cy="662.34" r="3.2"/><circle cx="713.15" cy="662.01" r="3.2"/></g>
<path d="M551.78 665.82V667.11M563.30 665.31V666.84M574.83 664.81V666.57M586.36 664.31V666.29M597.88 663.81V666.02M609.41 663.31V665.74M620.94 662.81V665.47M632.46 662.31V665.20M643.99 661.81V664.92M655.52 661.30V664.65M667.04 660.80V664.38M678.57 660.29V664.12M690.10 659.78V663.85M701.62 659.27V663.58M713.15 658.76V663.32" stroke="#8d89c0" stroke-opacity="0.85" stroke-width="1.3" fill="none"/>
<polyline points="551.78,666.46 563.30,666.08 574.83,665.69 586.36,665.30 597.88,664.91 609.41,664.53 620.94,664.14 632.46,663.75 643.99,663.36 655.52,662.98 667.04,662.59 678.57,662.20 690.10,661.82 701.62,661.43 713.15,661.04" stroke="#8d89c0" stroke-opacity="0.92" stroke-width="1.95" fill="none" stroke-linejoin="round"/>
<g fill="#8d89c0" fill-opacity="0.84" stroke="#8d89c0" stroke-opacity="0.5" stroke-width="0.8"><circle cx="551.78" cy="666.46" r="3.2"/><circle cx="563.30" cy="666.08" r="3.2"/><circle cx="574.83" cy="665.69" r="3.2"/><circle cx="586.36" cy="665.30" r="3.2"/><circle cx="597.88" cy="664.91" r="3.2"/><circle cx="609.41" cy="664.53" r="3.2"/><circle cx="620.94" cy="664.14" r="3.2"/><circle cx="632.46" cy="663.75" r="3.2"/><circle cx="643.99" cy="663.36" r="3.2"/><circle cx="655.52" cy="662.98" r="3.2"/><circle cx="667.04" cy="662.59" r="3.2"/><circle cx="678.57" cy="662.20" r="3.2"/><circle cx="690.10" cy="661.82" r="3.2"/><circle cx="701.62" cy="661.43" r="3.2"/><circle cx="713.15" cy="661.04" r="3.2"/></g>
<path d="M551.78 665.58V666.96M563.30 665.08V666.69M574.83 664.35V666.25M586.36 662.72V665.17M597.88 663.13V665.54M609.41 661.51V664.45M620.94 658.16V661.98M632.46 657.67V661.71M643.99 656.30V660.75M655.52 655.37V660.13M667.04 655.72V660.55M678.57 653.06V658.56M690.10 652.34V658.12M701.62 652.69V658.55M713.15 649.18V655.86" stroke="#6a51a3" stroke-opacity="0.85" stroke-width="1.3" fill="none"/>
<polyline points="551.78,666.27 563.30,665.88 574.83,665.30 586.36,663.95 597.88,664.33 609.41,662.98 620.94,660.07 632.46,659.69 643.99,658.52 655.52,657.75 667.04,658.14 678.57,655.81 690.10,655.23 701.62,655.62 713.15,652.52" stroke="#6a51a3" stroke-opacity="0.92" stroke-width="1.95" fill="none" stroke-linejoin="round"/>
<g fill="#6a51a3" fill-opacity="0.84" stroke="#6a51a3" stroke-opacity="0.5" stroke-width="0.8"><circle cx="551.78" cy="666.27" r="3.2"/><circle cx="563.30" cy="665.88" r="3.2"/><circle cx="574.83" cy="665.30" r="3.2"/><circle cx="586.36" cy="663.95" r="3.2"/><circle cx="597.88" cy="664.33" r="3.2"/><circle cx="609.41" cy="662.98" r="3.2"/><circle cx="620.94" cy="660.07" r="3.2"/><circle cx="632.46" cy="659.69" r="3.2"/><circle cx="643.99" cy="658.52" r="3.2"/><circle cx="655.52" cy="657.75" r="3.2"/><circle cx="667.04" cy="658.14" r="3.2"/><circle cx="678.57" cy="655.81" r="3.2"/><circle cx="690.10" cy="655.23" r="3.2"/><circle cx="701.62" cy="655.62" r="3.2"/><circle cx="713.15" cy="652.52" r="3.2"/></g>
<path d="M551.78 665.58V666.96M563.30 665.31V666.84M574.83 664.58V666.41M586.36 664.54V666.45M597.88 664.27V666.33M609.41 663.08V665.58M620.94 664.43V666.55M632.46 662.99V665.67M643.99 662.03V665.08M655.52 662.44V665.45M667.04 662.86V665.80M678.57 662.35V665.54M690.10 658.22V662.70M701.62 661.09V664.86M713.15 658.09V662.83" stroke="#572c92" stroke-opacity="0.85" stroke-width="1.3" fill="none"/>
<polyline points="551.78,666.27 563.30,666.08 574.83,665.49 586.36,665.49 597.88,665.30 609.41,664.33 620.94,665.49 632.46,664.33 643.99,663.56 655.52,663.95 667.04,664.33 678.57,663.95 690.10,660.46 701.62,662.98 713.15,660.46" stroke="#572c92" stroke-opacity="0.92" stroke-width="1.95" fill="none" stroke-linejoin="round"/>
<g fill="#572c92" fill-opacity="0.84" stroke="#572c92" stroke-opacity="0.5" stroke-width="0.8"><circle cx="551.78" cy="666.27" r="3.2"/><circle cx="563.30" cy="666.08" r="3.2"/><circle cx="574.83" cy="665.49" r="3.2"/><circle cx="586.36" cy="665.49" r="3.2"/><circle cx="597.88" cy="665.30" r="3.2"/><circle cx="609.41" cy="664.33" r="3.2"/><circle cx="620.94" cy="665.49" r="3.2"/><circle cx="632.46" cy="664.33" r="3.2"/><circle cx="643.99" cy="663.56" r="3.2"/><circle cx="655.52" cy="663.95" r="3.2"/><circle cx="667.04" cy="664.33" r="3.2"/><circle cx="678.57" cy="663.95" r="3.2"/><circle cx="690.10" cy="660.46" r="3.2"/><circle cx="701.62" cy="662.98" r="3.2"/><circle cx="713.15" cy="660.46" r="3.2"/></g>
</g>
<path d="M108.00 38.50h207.48v213.00h-207.48zM125.29 251.50v5.6M182.92 251.50v5.6M240.56 251.50v5.6M298.19 251.50v5.6M108.00 241.82h-5.6M108.00 193.41h-5.6M108.00 145.00h-5.6M108.00 96.59h-5.6M108.00 48.18h-5.6M315.48 38.50h207.48v213.00h-207.48zM332.77 251.50v5.6M390.40 251.50v5.6M448.04 251.50v5.6M505.67 251.50v5.6M315.48 241.82h-5.6M315.48 193.41h-5.6M315.48 145.00h-5.6M315.48 96.59h-5.6M315.48 48.18h-5.6M522.96 38.50h207.48v213.00h-207.48zM540.25 251.50v5.6M597.88 251.50v5.6M655.52 251.50v5.6M713.15 251.50v5.6M522.96 241.82h-5.6M522.96 193.41h-5.6M522.96 145.00h-5.6M522.96 96.59h-5.6M522.96 48.18h-5.6M108.00 251.50h207.48v213.00h-207.48zM125.29 464.50v5.6M182.92 464.50v5.6M240.56 464.50v5.6M298.19 464.50v5.6M108.00 454.82h-5.6M108.00 406.41h-5.6M108.00 358.00h-5.6M108.00 309.59h-5.6M108.00 261.18h-5.6M315.48 251.50h207.48v213.00h-207.48zM332.77 464.50v5.6M390.40 464.50v5.6M448.04 464.50v5.6M505.67 464.50v5.6M315.48 454.82h-5.6M315.48 406.41h-5.6M315.48 358.00h-5.6M315.48 309.59h-5.6M315.48 261.18h-5.6M522.96 251.50h207.48v213.00h-207.48zM540.25 464.50v5.6M597.88 464.50v5.6M655.52 464.50v5.6M713.15 464.50v5.6M522.96 454.82h-5.6M522.96 406.41h-5.6M522.96 358.00h-5.6M522.96 309.59h-5.6M522.96 261.18h-5.6M108.00 464.50h207.48v213.00h-207.48zM125.29 677.50v5.6M182.92 677.50v5.6M240.56 677.50v5.6M298.19 677.50v5.6M108.00 667.82h-5.6M108.00 619.41h-5.6M108.00 571.00h-5.6M108.00 522.59h-5.6M108.00 474.18h-5.6M315.48 464.50h207.48v213.00h-207.48zM332.77 677.50v5.6M390.40 677.50v5.6M448.04 677.50v5.6M505.67 677.50v5.6M315.48 667.82h-5.6M315.48 619.41h-5.6M315.48 571.00h-5.6M315.48 522.59h-5.6M315.48 474.18h-5.6M522.96 464.50h207.48v213.00h-207.48zM540.25 677.50v5.6M597.88 677.50v5.6M655.52 677.50v5.6M713.15 677.50v5.6M522.96 667.82h-5.6M522.96 619.41h-5.6M522.96 571.00h-5.6M522.96 522.59h-5.6M522.96 474.18h-5.6" stroke="#000" stroke-width="1.05" fill="none" stroke-linecap="butt"/>
<g opacity="0.999" fill="#000" stroke="#000" stroke-width="0.35">
<text x="47.91" y="250.52" font-size="25.5" textLength="50.88" lengthAdjust="spacingAndGlyphs">0.00</text>
<text x="47.91" y="202.11" font-size="25.5" textLength="50.96" lengthAdjust="spacingAndGlyphs">0.25</text>
<text x="47.91" y="153.70" font-size="25.5" textLength="50.88" lengthAdjust="spacingAndGlyphs">0.50</text>
<text x="47.91" y="105.29" font-size="25.5" textLength="50.96" lengthAdjust="spacingAndGlyphs">0.75</text>
<text x="47.43" y="56.88" font-size="25.5" textLength="51.37" lengthAdjust="spacingAndGlyphs">1.00</text>
<text transform="translate(38.80,161.43) rotate(-90)" font-size="25.5" textLength="34.05" lengthAdjust="spacingAndGlyphs">DP</text>
<text x="47.91" y="463.52" font-size="25.5" textLength="50.88" lengthAdjust="spacingAndGlyphs">0.00</text>
<text x="47.91" y="415.11" font-size="25.5" textLength="50.96" lengthAdjust="spacingAndGlyphs">0.25</text>
<text x="47.91" y="366.70" font-size="25.5" textLength="50.88" lengthAdjust="spacingAndGlyphs">0.50</text>
<text x="47.91" y="318.29" font-size="25.5" textLength="50.96" lengthAdjust="spacingAndGlyphs">0.75</text>
<text x="47.43" y="269.88" font-size="25.5" textLength="51.37" lengthAdjust="spacingAndGlyphs">1.00</text>
<text transform="translate(38.80,374.43) rotate(-90)" font-size="25.5" textLength="34.05" lengthAdjust="spacingAndGlyphs">DP</text>
<text x="47.91" y="676.52" font-size="25.5" textLength="50.88" lengthAdjust="spacingAndGlyphs">0.00</text>
<text x="47.91" y="628.11" font-size="25.5" textLength="50.96" lengthAdjust="spacingAndGlyphs">0.25</text>
<text x="47.91" y="579.70" font-size="25.5" textLength="50.88" lengthAdjust="spacingAndGlyphs">0.50</text>
<text x="47.91" y="531.29" font-size="25.5" textLength="50.96" lengthAdjust="spacingAndGlyphs">0.75</text>
<text x="47.43" y="482.88" font-size="25.5" textLength="51.37" lengthAdjust="spacingAndGlyphs">1.00</text>
<text transform="translate(38.80,587.43) rotate(-90)" font-size="25.5" textLength="34.05" lengthAdjust="spacingAndGlyphs">DP</text>
<text x="110.47" y="704.50" font-size="25.5" textLength="28.80" lengthAdjust="spacingAndGlyphs">10</text>
<text x="168.29" y="704.50" font-size="25.5" textLength="29.13" lengthAdjust="spacingAndGlyphs">20</text>
<text x="225.77" y="704.50" font-size="25.5" textLength="29.29" lengthAdjust="spacingAndGlyphs">30</text>
<text x="284.22" y="704.50" font-size="25.5" textLength="28.44" lengthAdjust="spacingAndGlyphs">40</text>
<text x="160.55" y="730.60" font-size="25.5" textLength="102.22" lengthAdjust="spacingAndGlyphs">Duration</text>
<text x="317.95" y="704.50" font-size="25.5" textLength="28.80" lengthAdjust="spacingAndGlyphs">10</text>
<text x="375.77" y="704.50" font-size="25.5" textLength="29.13" lengthAdjust="spacingAndGlyphs">20</text>
<text x="433.25" y="704.50" font-size="25.5" textLength="29.29" lengthAdjust="spacingAndGlyphs">30</text>
<text x="491.70" y="704.50" font-size="25.5" textLength="28.44" lengthAdjust="spacingAndGlyphs">40</text>
<text x="368.03" y="730.60" font-size="25.5" textLength="102.22" lengthAdjust="spacingAndGlyphs">Duration</text>
<text x="525.43" y="704.50" font-size="25.5" textLength="28.80" lengthAdjust="spacingAndGlyphs">10</text>
<text x="583.25" y="704.50" font-size="25.5" textLength="29.13" lengthAdjust="spacingAndGlyphs">20</text>
<text x="640.73" y="704.50" font-size="25.5" textLength="29.29" lengthAdjust="spacingAndGlyphs">30</text>
<text x="699.18" y="704.50" font-size="25.5" textLength="28.44" lengthAdjust="spacingAndGlyphs">40</text>
<text x="575.51" y="730.60" font-size="25.5" textLength="102.22" lengthAdjust="spacingAndGlyphs">Duration</text>
<text x="191.90" y="30.30" font-size="18.5" textLength="40.02" lengthAdjust="spacingAndGlyphs">Fore</text>
<text x="397.82" y="30.30" font-size="18.5" textLength="42.97" lengthAdjust="spacingAndGlyphs">Back</text>
<text x="606.73" y="30.30" font-size="18.5" textLength="40.22" lengthAdjust="spacingAndGlyphs">Both</text>
<text x="732.60" y="116.50" font-size="18.5" textLength="9.94" lengthAdjust="spacingAndGlyphs" font-style="italic" stroke="none">a</text>
<text x="732.68" y="138.10" font-size="18.5" textLength="8.57" lengthAdjust="spacingAndGlyphs" font-style="italic" stroke="none">σ</text>
<text x="746.38" y="138.50" font-size="18.5" textLength="16.01" lengthAdjust="spacingAndGlyphs" stroke-width="0.55">=</text>
<text x="765.31" y="138.10" font-size="18.5" textLength="23.13" lengthAdjust="spacingAndGlyphs" stroke="none">0.3</text>
<text x="793.40" y="138.10" font-size="18.5" textLength="9.83" lengthAdjust="spacingAndGlyphs" font-style="italic" stroke="none">μ</text>
<text x="802.36" y="138.10" font-size="18.5" textLength="10.09" lengthAdjust="spacingAndGlyphs" stroke="none">s</text>
<text x="734.23" y="160.30" font-size="18.5" textLength="11.40" lengthAdjust="spacingAndGlyphs" font-style="italic" stroke="none">A</text>
<text x="749.47" y="160.70" font-size="18.5" textLength="16.13" lengthAdjust="spacingAndGlyphs" stroke-width="0.55">=</text>
<text x="768.02" y="160.30" font-size="18.5" textLength="25.85" lengthAdjust="spacingAndGlyphs" stroke="none">0.0</text>
<text x="732.79" y="181.60" font-size="18.5" textLength="9.16" lengthAdjust="spacingAndGlyphs" font-style="italic" stroke="none">γ</text>
<text x="745.07" y="182.00" font-size="18.5" textLength="16.13" lengthAdjust="spacingAndGlyphs" stroke-width="0.55">=</text>
<text x="764.40" y="181.60" font-size="18.5" textLength="37.35" lengthAdjust="spacingAndGlyphs" stroke="none">N/A</text>
<text x="732.65" y="329.50" font-size="18.5" textLength="9.10" lengthAdjust="spacingAndGlyphs" font-style="italic" stroke="none">d</text>
<text x="732.68" y="351.10" font-size="18.5" textLength="8.57" lengthAdjust="spacingAndGlyphs" font-style="italic" stroke="none">σ</text>
<text x="746.38" y="351.50" font-size="18.5" textLength="16.01" lengthAdjust="spacingAndGlyphs" stroke-width="0.55">=</text>
<text x="765.31" y="351.10" font-size="18.5" textLength="23.13" lengthAdjust="spacingAndGlyphs" stroke="none">0.3</text>
<text x="793.40" y="351.10" font-size="18.5" textLength="9.83" lengthAdjust="spacingAndGlyphs" font-style="italic" stroke="none">μ</text>
<text x="802.36" y="351.10" font-size="18.5" textLength="10.09" lengthAdjust="spacingAndGlyphs" stroke="none">s</text>
<text x="734.23" y="373.30" font-size="18.5" textLength="11.40" lengthAdjust="spacingAndGlyphs" font-style="italic" stroke="none">A</text>
<text x="749.47" y="373.70" font-size="18.5" textLength="16.13" lengthAdjust="spacingAndGlyphs" stroke-width="0.55">=</text>
<text x="768.94" y="373.30" font-size="18.5" textLength="18.97" lengthAdjust="spacingAndGlyphs" stroke="none">10</text>
<text x="789.57" y="366.20" font-size="13.2" textLength="33.76" lengthAdjust="spacingAndGlyphs" stroke="none">−14.0</text>
<text x="732.79" y="394.60" font-size="18.5" textLength="9.16" lengthAdjust="spacingAndGlyphs" font-style="italic" stroke="none">γ</text>
<text x="745.07" y="395.00" font-size="18.5" textLength="16.13" lengthAdjust="spacingAndGlyphs" stroke-width="0.55">=</text>
<text x="767.54" y="395.00" font-size="18.5" textLength="14.19" lengthAdjust="spacingAndGlyphs" stroke-width="0.55">−</text>
<text x="786.09" y="394.60" font-size="18.5" textLength="23.93" lengthAdjust="spacingAndGlyphs" stroke="none">2.0</text>
<text x="732.54" y="542.50" font-size="18.5" textLength="9.73" lengthAdjust="spacingAndGlyphs" font-style="italic" stroke="none">e</text>
<text x="732.68" y="564.10" font-size="18.5" textLength="8.57" lengthAdjust="spacingAndGlyphs" font-style="italic" stroke="none">σ</text>
<text x="746.38" y="564.50" font-size="18.5" textLength="16.01" lengthAdjust="spacingAndGlyphs" stroke-width="0.55">=</text>
<text x="765.31" y="564.10" font-size="18.5" textLength="23.13" lengthAdjust="spacingAndGlyphs" stroke="none">0.3</text>
<text x="793.40" y="564.10" font-size="18.5" textLength="9.83" lengthAdjust="spacingAndGlyphs" font-style="italic" stroke="none">μ</text>
<text x="802.36" y="564.10" font-size="18.5" textLength="10.09" lengthAdjust="spacingAndGlyphs" stroke="none">s</text>
<text x="734.23" y="586.30" font-size="18.5" textLength="11.40" lengthAdjust="spacingAndGlyphs" font-style="italic" stroke="none">A</text>
<text x="749.47" y="586.70" font-size="18.5" textLength="16.13" lengthAdjust="spacingAndGlyphs" stroke-width="0.55">=</text>
<text x="768.94" y="586.30" font-size="18.5" textLength="18.97" lengthAdjust="spacingAndGlyphs" stroke="none">10</text>
<text x="789.57" y="579.20" font-size="13.2" textLength="33.76" lengthAdjust="spacingAndGlyphs" stroke="none">−14.0</text>
<text x="732.79" y="607.60" font-size="18.5" textLength="9.16" lengthAdjust="spacingAndGlyphs" font-style="italic" stroke="none">γ</text>
<text x="745.07" y="608.00" font-size="18.5" textLength="16.13" lengthAdjust="spacingAndGlyphs" stroke-width="0.55">=</text>
<text x="767.54" y="608.00" font-size="18.5" textLength="14.19" lengthAdjust="spacingAndGlyphs" stroke-width="0.55">−</text>
<text x="785.99" y="607.60" font-size="18.5" textLength="24.03" lengthAdjust="spacingAndGlyphs" stroke="none">3.0</text>
<rect x="98.7" y="745.7" width="632.6" height="65.5" rx="3.5" ry="3.5" fill="#fff" stroke="#d4d4d4" stroke-width="1.1"/>
<text x="236.51" y="770.80" font-size="25.5" textLength="357.15" lengthAdjust="spacingAndGlyphs">Loss-Cone Refilling Parameter</text>
<path d="M105.10 793.6h49.8" stroke="#cfe1f2" stroke-width="1.6" fill="none"/>
<text x="166.00" y="800.60" font-size="21.5" textLength="30.11" lengthAdjust="spacingAndGlyphs">0.0</text>
<path d="M210.50 793.6h49.8" stroke="#a9cee6" stroke-width="1.6" fill="none"/>
<text x="271.38" y="800.60" font-size="21.5" textLength="30.56" lengthAdjust="spacingAndGlyphs">0.2</text>
<path d="M315.90 793.6h49.8" stroke="#8abfdd" stroke-width="1.6" fill="none"/>
<text x="376.81" y="800.60" font-size="21.5" textLength="29.54" lengthAdjust="spacingAndGlyphs">0.4</text>
<path d="M421.30 793.6h49.8" stroke="#6aaad5" stroke-width="1.6" fill="none"/>
<text x="482.20" y="800.60" font-size="21.5" textLength="29.92" lengthAdjust="spacingAndGlyphs">0.6</text>
<path d="M526.70 793.6h49.8" stroke="#5a91c5" stroke-width="1.6" fill="none"/>
<text x="587.60" y="800.60" font-size="21.5" textLength="30.11" lengthAdjust="spacingAndGlyphs">0.8</text>
<path d="M632.10 793.6h49.8" stroke="#4a7fb5" stroke-width="1.6" fill="none"/>
<text x="692.67" y="800.60" font-size="21.5" textLength="30.44" lengthAdjust="spacingAndGlyphs">1.0</text>
</g>
</svg>
</body></html>
